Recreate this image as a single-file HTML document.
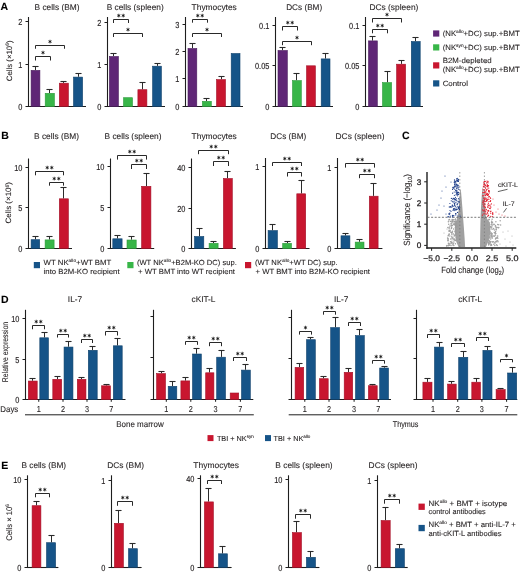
<!DOCTYPE html><html><head><meta charset="utf-8"><style>html,body{margin:0;padding:0;background:#fff;width:520px;height:573px;overflow:hidden}svg{display:block;will-change:transform}</style></head><body><svg width="520" height="573" viewBox="0 0 520 573" font-family="&quot;Liberation Sans&quot;, sans-serif"><style>text{stroke:#231f20;stroke-width:0.1px;paint-order:stroke;text-rendering:geometricPrecision}</style>
<rect width="520" height="573" fill="#ffffff"/>
<text x="0.5" y="10" font-size="10.5" text-anchor="start" font-weight="bold" fill="#000" >A</text>
<text x="1.2" y="138.5" font-size="10.5" text-anchor="start" font-weight="bold" fill="#000" >B</text>
<text x="402" y="139" font-size="10.5" text-anchor="start" font-weight="bold" fill="#000" >C</text>
<text x="1" y="302.8" font-size="10.5" text-anchor="start" font-weight="bold" fill="#000" >D</text>
<text x="1.2" y="469" font-size="10.5" text-anchor="start" font-weight="bold" fill="#000" >E</text>
<line x1="28.5" y1="17" x2="28.5" y2="107.0" stroke="#1e1e1e" stroke-width="1.1"/>
<line x1="28.0" y1="106.5" x2="86" y2="106.5" stroke="#1e1e1e" stroke-width="1.1"/>
<line x1="25.5" y1="106.5" x2="28.5" y2="106.5" stroke="#1e1e1e" stroke-width="1"/>
<text x="22.4" y="109.6" font-size="8.7" text-anchor="end" font-weight="normal" fill="#231f20" textLength="4.11" lengthAdjust="spacingAndGlyphs" style="stroke-width:0.15px">0</text>
<line x1="25.5" y1="64.5" x2="28.5" y2="64.5" stroke="#1e1e1e" stroke-width="1"/>
<text x="22.4" y="67.6" font-size="8.7" text-anchor="end" font-weight="normal" fill="#231f20" textLength="4.11" lengthAdjust="spacingAndGlyphs" style="stroke-width:0.15px">1</text>
<line x1="25.5" y1="21.5" x2="28.5" y2="21.5" stroke="#1e1e1e" stroke-width="1"/>
<text x="22.4" y="24.6" font-size="8.7" text-anchor="end" font-weight="normal" fill="#231f20" textLength="4.11" lengthAdjust="spacingAndGlyphs" style="stroke-width:0.15px">2</text>
<line x1="35.5" y1="66.5" x2="35.5" y2="70.1" stroke="#2b2b2b" stroke-width="1"/>
<line x1="32.45" y1="66.5" x2="38.55" y2="66.5" stroke="#2b2b2b" stroke-width="1.1"/>
<rect x="31.1" y="70.39999999999999" width="8.800000000000002" height="36.10000000000001" fill="#5f2676" stroke="#4a1d5e" stroke-width="0.6"/>
<line x1="49.5" y1="89.5" x2="49.5" y2="93" stroke="#2b2b2b" stroke-width="1"/>
<line x1="46.45" y1="89.5" x2="52.55" y2="89.5" stroke="#2b2b2b" stroke-width="1.1"/>
<rect x="45.199999999999996" y="93.3" width="9.200000000000005" height="13.2" fill="#38b648" stroke="#2e9a3c" stroke-width="0.6"/>
<line x1="63.5" y1="81.5" x2="63.5" y2="82.9" stroke="#2b2b2b" stroke-width="1"/>
<line x1="60.45" y1="81.5" x2="66.55" y2="81.5" stroke="#2b2b2b" stroke-width="1.1"/>
<rect x="59.3" y="83.2" width="9.100000000000003" height="23.299999999999994" fill="#c8162f" stroke="#a31128" stroke-width="0.6"/>
<line x1="78.5" y1="73.5" x2="78.5" y2="76.8" stroke="#2b2b2b" stroke-width="1"/>
<line x1="75.45" y1="73.5" x2="81.55" y2="73.5" stroke="#2b2b2b" stroke-width="1.1"/>
<rect x="73.5" y="77.1" width="9.100000000000003" height="29.400000000000002" fill="#165488" stroke="#10426c" stroke-width="0.6"/>
<polyline points="35.5,60.5 35.5,56.5 50.5,56.5 50.5,60.5" fill="none" stroke="#1e1e1e" stroke-width="0.95"/>
<circle cx="43.00" cy="52.60" r="0.85" fill="#1e1e1e"/>
<path d="M43.00,51.15L43.00,54.05M41.74,51.88L44.26,53.33M44.26,51.88L41.74,53.33" stroke="#1e1e1e" stroke-width="0.75" stroke-linecap="round" fill="none"/>
<polyline points="35.5,48.75 35.5,45.5 64.5,45.5 64.5,48.75" fill="none" stroke="#1e1e1e" stroke-width="0.95"/>
<circle cx="50.00" cy="41.60" r="0.85" fill="#1e1e1e"/>
<path d="M50.00,40.15L50.00,43.05M48.74,40.88L51.26,42.33M51.26,40.88L48.74,42.33" stroke="#1e1e1e" stroke-width="0.75" stroke-linecap="round" fill="none"/>
<text x="57" y="9.8" font-size="8.3" text-anchor="middle" font-weight="normal" fill="#231f20" textLength="45" lengthAdjust="spacingAndGlyphs" >B cells (BM)</text>
<line x1="107.5" y1="17" x2="107.5" y2="107.0" stroke="#1e1e1e" stroke-width="1.1"/>
<line x1="107.0" y1="106.5" x2="165" y2="106.5" stroke="#1e1e1e" stroke-width="1.1"/>
<line x1="104.5" y1="106.5" x2="107.5" y2="106.5" stroke="#1e1e1e" stroke-width="1"/>
<text x="101.4" y="109.6" font-size="8.7" text-anchor="end" font-weight="normal" fill="#231f20" textLength="4.11" lengthAdjust="spacingAndGlyphs" style="stroke-width:0.15px">0</text>
<line x1="104.5" y1="64.5" x2="107.5" y2="64.5" stroke="#1e1e1e" stroke-width="1"/>
<text x="101.4" y="67.6" font-size="8.7" text-anchor="end" font-weight="normal" fill="#231f20" textLength="4.11" lengthAdjust="spacingAndGlyphs" style="stroke-width:0.15px">1</text>
<line x1="104.5" y1="22.5" x2="107.5" y2="22.5" stroke="#1e1e1e" stroke-width="1"/>
<text x="101.4" y="25.6" font-size="8.7" text-anchor="end" font-weight="normal" fill="#231f20" textLength="4.11" lengthAdjust="spacingAndGlyphs" style="stroke-width:0.15px">2</text>
<line x1="113.5" y1="53.5" x2="113.5" y2="56.2" stroke="#2b2b2b" stroke-width="1"/>
<line x1="110.45" y1="53.5" x2="116.55" y2="53.5" stroke="#2b2b2b" stroke-width="1.1"/>
<rect x="109.39999999999999" y="56.5" width="9.000000000000009" height="50.0" fill="#5f2676" stroke="#4a1d5e" stroke-width="0.6"/>
<rect x="123.5" y="97.7" width="9.000000000000009" height="8.799999999999994" fill="#38b648" stroke="#2e9a3c" stroke-width="0.6"/>
<line x1="142.5" y1="82.5" x2="142.5" y2="89.4" stroke="#2b2b2b" stroke-width="1"/>
<line x1="139.45" y1="82.5" x2="145.55" y2="82.5" stroke="#2b2b2b" stroke-width="1.1"/>
<rect x="137.9" y="89.7" width="8.999999999999995" height="16.799999999999994" fill="#c8162f" stroke="#a31128" stroke-width="0.6"/>
<line x1="157.5" y1="63.5" x2="157.5" y2="65.9" stroke="#2b2b2b" stroke-width="1"/>
<line x1="154.45" y1="63.5" x2="160.55" y2="63.5" stroke="#2b2b2b" stroke-width="1.1"/>
<rect x="152.60000000000002" y="66.2" width="8.799999999999978" height="40.3" fill="#165488" stroke="#10426c" stroke-width="0.6"/>
<polyline points="113.5,23 113.5,19.5 128.5,19.5 128.5,23" fill="none" stroke="#1e1e1e" stroke-width="0.95"/>
<circle cx="118.75" cy="15.60" r="0.85" fill="#1e1e1e"/>
<path d="M118.75,14.15L118.75,17.05M117.49,14.88L120.01,16.32M120.01,14.88L117.49,16.32" stroke="#1e1e1e" stroke-width="0.75" stroke-linecap="round" fill="none"/>
<circle cx="123.25" cy="15.60" r="0.85" fill="#1e1e1e"/>
<path d="M123.25,14.15L123.25,17.05M121.99,14.88L124.51,16.32M124.51,14.88L121.99,16.32" stroke="#1e1e1e" stroke-width="0.75" stroke-linecap="round" fill="none"/>
<polyline points="113.5,37 113.5,33.5 142.5,33.5 142.5,37" fill="none" stroke="#1e1e1e" stroke-width="0.95"/>
<circle cx="128.00" cy="29.60" r="0.85" fill="#1e1e1e"/>
<path d="M128.00,28.15L128.00,31.05M126.74,28.88L129.26,30.33M129.26,28.88L126.74,30.33" stroke="#1e1e1e" stroke-width="0.75" stroke-linecap="round" fill="none"/>
<text x="135.2" y="9.8" font-size="8.3" text-anchor="middle" font-weight="normal" fill="#231f20" textLength="57" lengthAdjust="spacingAndGlyphs" >B cells (spleen)</text>
<line x1="185.5" y1="17" x2="185.5" y2="107.0" stroke="#1e1e1e" stroke-width="1.1"/>
<line x1="185.0" y1="106.5" x2="243" y2="106.5" stroke="#1e1e1e" stroke-width="1.1"/>
<line x1="182.5" y1="106.5" x2="185.5" y2="106.5" stroke="#1e1e1e" stroke-width="1"/>
<text x="179.4" y="109.6" font-size="8.7" text-anchor="end" font-weight="normal" fill="#231f20" textLength="4.11" lengthAdjust="spacingAndGlyphs" style="stroke-width:0.15px">0</text>
<line x1="182.5" y1="78.5" x2="185.5" y2="78.5" stroke="#1e1e1e" stroke-width="1"/>
<text x="179.4" y="81.6" font-size="8.7" text-anchor="end" font-weight="normal" fill="#231f20" textLength="4.11" lengthAdjust="spacingAndGlyphs" style="stroke-width:0.15px">1</text>
<line x1="182.5" y1="51.5" x2="185.5" y2="51.5" stroke="#1e1e1e" stroke-width="1"/>
<text x="179.4" y="54.6" font-size="8.7" text-anchor="end" font-weight="normal" fill="#231f20" textLength="4.11" lengthAdjust="spacingAndGlyphs" style="stroke-width:0.15px">2</text>
<line x1="182.5" y1="24.5" x2="185.5" y2="24.5" stroke="#1e1e1e" stroke-width="1"/>
<text x="179.4" y="27.6" font-size="8.7" text-anchor="end" font-weight="normal" fill="#231f20" textLength="4.11" lengthAdjust="spacingAndGlyphs" style="stroke-width:0.15px">3</text>
<line x1="192.5" y1="43.5" x2="192.5" y2="48.2" stroke="#2b2b2b" stroke-width="1"/>
<line x1="189.45" y1="43.5" x2="195.55" y2="43.5" stroke="#2b2b2b" stroke-width="1.1"/>
<rect x="188.0" y="48.5" width="8.800000000000006" height="58.0" fill="#5f2676" stroke="#4a1d5e" stroke-width="0.6"/>
<line x1="206.5" y1="98.5" x2="206.5" y2="101" stroke="#2b2b2b" stroke-width="1"/>
<line x1="203.45" y1="98.5" x2="209.55" y2="98.5" stroke="#2b2b2b" stroke-width="1.1"/>
<rect x="202.4" y="101.3" width="8.9" height="5.2" fill="#38b648" stroke="#2e9a3c" stroke-width="0.6"/>
<line x1="221.5" y1="76.5" x2="221.5" y2="79.3" stroke="#2b2b2b" stroke-width="1"/>
<line x1="218.45" y1="76.5" x2="224.55" y2="76.5" stroke="#2b2b2b" stroke-width="1.1"/>
<rect x="216.5" y="79.6" width="9.000000000000023" height="26.900000000000002" fill="#c8162f" stroke="#a31128" stroke-width="0.6"/>
<rect x="231.20000000000002" y="53.5" width="8.800000000000006" height="53.0" fill="#165488" stroke="#10426c" stroke-width="0.6"/>
<polyline points="192.5,22.7 192.5,19.5 207.5,19.5 207.5,22.7" fill="none" stroke="#1e1e1e" stroke-width="0.95"/>
<circle cx="197.75" cy="15.60" r="0.85" fill="#1e1e1e"/>
<path d="M197.75,14.15L197.75,17.05M196.49,14.88L199.01,16.32M199.01,14.88L196.49,16.32" stroke="#1e1e1e" stroke-width="0.75" stroke-linecap="round" fill="none"/>
<circle cx="202.25" cy="15.60" r="0.85" fill="#1e1e1e"/>
<path d="M202.25,14.15L202.25,17.05M200.99,14.88L203.51,16.32M203.51,14.88L200.99,16.32" stroke="#1e1e1e" stroke-width="0.75" stroke-linecap="round" fill="none"/>
<polyline points="192.5,37 192.5,33.5 221.5,33.5 221.5,37" fill="none" stroke="#1e1e1e" stroke-width="0.95"/>
<circle cx="207.00" cy="29.60" r="0.85" fill="#1e1e1e"/>
<path d="M207.00,28.15L207.00,31.05M205.74,28.88L208.26,30.33M208.26,28.88L205.74,30.33" stroke="#1e1e1e" stroke-width="0.75" stroke-linecap="round" fill="none"/>
<text x="214.2" y="9.8" font-size="8.3" text-anchor="middle" font-weight="normal" fill="#231f20" textLength="45.2" lengthAdjust="spacingAndGlyphs" >Thymocytes</text>
<line x1="275.5" y1="17" x2="275.5" y2="107.0" stroke="#1e1e1e" stroke-width="1.1"/>
<line x1="275.0" y1="106.5" x2="333" y2="106.5" stroke="#1e1e1e" stroke-width="1.1"/>
<line x1="272.5" y1="106.5" x2="275.5" y2="106.5" stroke="#1e1e1e" stroke-width="1"/>
<text x="269.4" y="109.6" font-size="8.7" text-anchor="end" font-weight="normal" fill="#231f20" textLength="4.11" lengthAdjust="spacingAndGlyphs" style="stroke-width:0.15px">0</text>
<line x1="272.5" y1="65.5" x2="275.5" y2="65.5" stroke="#1e1e1e" stroke-width="1"/>
<text x="269.4" y="68.6" font-size="8.7" text-anchor="end" font-weight="normal" fill="#231f20" textLength="14.39" lengthAdjust="spacingAndGlyphs" style="stroke-width:0.15px">0.05</text>
<line x1="272.5" y1="25.5" x2="275.5" y2="25.5" stroke="#1e1e1e" stroke-width="1"/>
<text x="269.4" y="28.6" font-size="8.7" text-anchor="end" font-weight="normal" fill="#231f20" textLength="10.28" lengthAdjust="spacingAndGlyphs" style="stroke-width:0.15px">0.1</text>
<line x1="282.5" y1="47.5" x2="282.5" y2="50.2" stroke="#2b2b2b" stroke-width="1"/>
<line x1="279.45" y1="47.5" x2="285.55" y2="47.5" stroke="#2b2b2b" stroke-width="1.1"/>
<rect x="278.0" y="50.5" width="9.300000000000034" height="56.0" fill="#5f2676" stroke="#4a1d5e" stroke-width="0.6"/>
<line x1="296.5" y1="73.5" x2="296.5" y2="80.3" stroke="#2b2b2b" stroke-width="1"/>
<line x1="293.45" y1="73.5" x2="299.55" y2="73.5" stroke="#2b2b2b" stroke-width="1.1"/>
<rect x="292.5" y="80.6" width="8.800000000000034" height="25.900000000000002" fill="#38b648" stroke="#2e9a3c" stroke-width="0.6"/>
<rect x="306.5" y="65.8" width="8.9" height="40.7" fill="#c8162f" stroke="#a31128" stroke-width="0.6"/>
<line x1="325.5" y1="53.5" x2="325.5" y2="58.6" stroke="#2b2b2b" stroke-width="1"/>
<line x1="322.45" y1="53.5" x2="328.55" y2="53.5" stroke="#2b2b2b" stroke-width="1.1"/>
<rect x="321.2" y="58.9" width="8.800000000000034" height="47.6" fill="#165488" stroke="#10426c" stroke-width="0.6"/>
<polyline points="282.5,30.5 282.5,26.5 297.5,26.5 297.5,30.5" fill="none" stroke="#1e1e1e" stroke-width="0.95"/>
<circle cx="287.75" cy="22.60" r="0.85" fill="#1e1e1e"/>
<path d="M287.75,21.15L287.75,24.05M286.49,21.88L289.01,23.33M289.01,21.88L286.49,23.33" stroke="#1e1e1e" stroke-width="0.75" stroke-linecap="round" fill="none"/>
<circle cx="292.25" cy="22.60" r="0.85" fill="#1e1e1e"/>
<path d="M292.25,21.15L292.25,24.05M290.99,21.88L293.51,23.33M293.51,21.88L290.99,23.33" stroke="#1e1e1e" stroke-width="0.75" stroke-linecap="round" fill="none"/>
<polyline points="282.5,45.2 282.5,41.5 311.5,41.5 311.5,45.2" fill="none" stroke="#1e1e1e" stroke-width="0.95"/>
<circle cx="297.00" cy="37.60" r="0.85" fill="#1e1e1e"/>
<path d="M297.00,36.15L297.00,39.05M295.74,36.88L298.26,38.33M298.26,36.88L295.74,38.33" stroke="#1e1e1e" stroke-width="0.75" stroke-linecap="round" fill="none"/>
<text x="304.2" y="9.8" font-size="8.3" text-anchor="middle" font-weight="normal" fill="#231f20" textLength="36" lengthAdjust="spacingAndGlyphs" >DCs (BM)</text>
<line x1="365.5" y1="17" x2="365.5" y2="107.0" stroke="#1e1e1e" stroke-width="1.1"/>
<line x1="365.0" y1="106.5" x2="423" y2="106.5" stroke="#1e1e1e" stroke-width="1.1"/>
<line x1="362.5" y1="106.5" x2="365.5" y2="106.5" stroke="#1e1e1e" stroke-width="1"/>
<text x="359.4" y="109.6" font-size="8.7" text-anchor="end" font-weight="normal" fill="#231f20" textLength="4.11" lengthAdjust="spacingAndGlyphs" style="stroke-width:0.15px">0</text>
<line x1="362.5" y1="65.5" x2="365.5" y2="65.5" stroke="#1e1e1e" stroke-width="1"/>
<text x="359.4" y="68.6" font-size="8.7" text-anchor="end" font-weight="normal" fill="#231f20" textLength="14.39" lengthAdjust="spacingAndGlyphs" style="stroke-width:0.15px">0.05</text>
<line x1="362.5" y1="25.5" x2="365.5" y2="25.5" stroke="#1e1e1e" stroke-width="1"/>
<text x="359.4" y="28.6" font-size="8.7" text-anchor="end" font-weight="normal" fill="#231f20" textLength="10.28" lengthAdjust="spacingAndGlyphs" style="stroke-width:0.15px">0.1</text>
<line x1="372.5" y1="36.5" x2="372.5" y2="40.6" stroke="#2b2b2b" stroke-width="1"/>
<line x1="369.45" y1="36.5" x2="375.55" y2="36.5" stroke="#2b2b2b" stroke-width="1.1"/>
<rect x="368.5" y="40.9" width="8.800000000000034" height="65.60000000000001" fill="#5f2676" stroke="#4a1d5e" stroke-width="0.6"/>
<line x1="387.5" y1="71.5" x2="387.5" y2="82.3" stroke="#2b2b2b" stroke-width="1"/>
<line x1="384.45" y1="71.5" x2="390.55" y2="71.5" stroke="#2b2b2b" stroke-width="1.1"/>
<rect x="382.5" y="82.6" width="9.099999999999989" height="23.900000000000002" fill="#38b648" stroke="#2e9a3c" stroke-width="0.6"/>
<line x1="401.5" y1="60.5" x2="401.5" y2="63.9" stroke="#2b2b2b" stroke-width="1"/>
<line x1="398.45" y1="60.5" x2="404.55" y2="60.5" stroke="#2b2b2b" stroke-width="1.1"/>
<rect x="396.6" y="64.2" width="8.999999999999966" height="42.300000000000004" fill="#c8162f" stroke="#a31128" stroke-width="0.6"/>
<line x1="415.5" y1="37.5" x2="415.5" y2="41.2" stroke="#2b2b2b" stroke-width="1"/>
<line x1="412.45" y1="37.5" x2="418.55" y2="37.5" stroke="#2b2b2b" stroke-width="1.1"/>
<rect x="411.3" y="41.5" width="8.9" height="65.0" fill="#165488" stroke="#10426c" stroke-width="0.6"/>
<polyline points="372.5,22.5 372.5,18.5 401.5,18.5 401.5,22.5" fill="none" stroke="#1e1e1e" stroke-width="0.95"/>
<circle cx="387.00" cy="14.60" r="0.85" fill="#1e1e1e"/>
<path d="M387.00,13.15L387.00,16.05M385.74,13.88L388.26,15.32M388.26,13.88L385.74,15.32" stroke="#1e1e1e" stroke-width="0.75" stroke-linecap="round" fill="none"/>
<polyline points="372.5,33.3 372.5,29.5 387.5,29.5 387.5,33.3" fill="none" stroke="#1e1e1e" stroke-width="0.95"/>
<circle cx="377.75" cy="25.60" r="0.85" fill="#1e1e1e"/>
<path d="M377.75,24.15L377.75,27.05M376.49,24.88L379.01,26.33M379.01,24.88L376.49,26.33" stroke="#1e1e1e" stroke-width="0.75" stroke-linecap="round" fill="none"/>
<circle cx="382.25" cy="25.60" r="0.85" fill="#1e1e1e"/>
<path d="M382.25,24.15L382.25,27.05M380.99,24.88L383.51,26.33M383.51,24.88L380.99,26.33" stroke="#1e1e1e" stroke-width="0.75" stroke-linecap="round" fill="none"/>
<text x="393.9" y="9.8" font-size="8.3" text-anchor="middle" font-weight="normal" fill="#231f20" textLength="49" lengthAdjust="spacingAndGlyphs" >DCs (spleen)</text>
<text transform="translate(11.7,60.8) rotate(-90)" font-size="7.8" text-anchor="middle" fill="#231f20" textLength="40.8" lengthAdjust="spacingAndGlyphs">Cells (×10<tspan font-size="5" dy="-2.8">6</tspan><tspan dy="2.8">)</tspan></text>
<rect x="433.1" y="30.4" width="6.2" height="6.2" fill="#5f2676"/>
<rect x="433.1" y="44.3" width="6.2" height="6.2" fill="#38b648"/>
<rect x="433.1" y="62.3" width="6.2" height="6.2" fill="#c8162f"/>
<rect x="433.1" y="80.3" width="6.2" height="6.2" fill="#165488"/>
<text x="442.7" y="36.3" font-size="7.5" fill="#231f20" textLength="77" lengthAdjust="spacingAndGlyphs">(NK<tspan font-size="4.65" dy="-2.85">allo</tspan><tspan dy="2.85">+DC) sup.+BMT</tspan></text>
<text x="442.7" y="49.9" font-size="7.5" fill="#231f20" textLength="77" lengthAdjust="spacingAndGlyphs">(NK<tspan font-size="4.65" dy="-2.85">syn</tspan><tspan dy="2.85">+DC) sup.+BMT</tspan></text>
<text x="442.7" y="62.7" font-size="7.5" text-anchor="start" font-weight="normal" fill="#231f20" textLength="49" lengthAdjust="spacingAndGlyphs" >B2M-depleted</text>
<text x="442.7" y="72.3" font-size="7.5" fill="#231f20" textLength="77" lengthAdjust="spacingAndGlyphs">(NK<tspan font-size="4.65" dy="-2.85">allo</tspan><tspan dy="2.85">+DC) sup.+BMT</tspan></text>
<text x="442.7" y="85.6" font-size="7.5" text-anchor="start" font-weight="normal" fill="#231f20" textLength="25.3" lengthAdjust="spacingAndGlyphs" >Control</text>
<line x1="28.5" y1="158.5" x2="28.5" y2="249.0" stroke="#1e1e1e" stroke-width="1.1"/>
<line x1="28.0" y1="248.5" x2="72" y2="248.5" stroke="#1e1e1e" stroke-width="1.1"/>
<line x1="25.5" y1="248.5" x2="28.5" y2="248.5" stroke="#1e1e1e" stroke-width="1"/>
<text x="22.4" y="251.6" font-size="8.7" text-anchor="end" font-weight="normal" fill="#231f20" textLength="4.11" lengthAdjust="spacingAndGlyphs" style="stroke-width:0.15px">0</text>
<line x1="25.5" y1="207.5" x2="28.5" y2="207.5" stroke="#1e1e1e" stroke-width="1"/>
<text x="22.4" y="210.6" font-size="8.7" text-anchor="end" font-weight="normal" fill="#231f20" textLength="4.11" lengthAdjust="spacingAndGlyphs" style="stroke-width:0.15px">5</text>
<line x1="25.5" y1="167.5" x2="28.5" y2="167.5" stroke="#1e1e1e" stroke-width="1"/>
<text x="22.4" y="170.6" font-size="8.7" text-anchor="end" font-weight="normal" fill="#231f20" textLength="8.22" lengthAdjust="spacingAndGlyphs" style="stroke-width:0.15px">10</text>
<line x1="35.5" y1="236.5" x2="35.5" y2="239.4" stroke="#2b2b2b" stroke-width="1"/>
<line x1="32.45" y1="236.5" x2="38.55" y2="236.5" stroke="#2b2b2b" stroke-width="1.1"/>
<rect x="31.1" y="239.70000000000002" width="8.6" height="8.799999999999994" fill="#165488" stroke="#10426c" stroke-width="0.6"/>
<line x1="49.5" y1="236.5" x2="49.5" y2="239.6" stroke="#2b2b2b" stroke-width="1"/>
<line x1="46.45" y1="236.5" x2="52.55" y2="236.5" stroke="#2b2b2b" stroke-width="1.1"/>
<rect x="45.099999999999994" y="239.9" width="9.000000000000002" height="8.600000000000005" fill="#38b648" stroke="#2e9a3c" stroke-width="0.6"/>
<line x1="63.5" y1="187.5" x2="63.5" y2="198.5" stroke="#2b2b2b" stroke-width="1"/>
<line x1="60.45" y1="187.5" x2="66.55" y2="187.5" stroke="#2b2b2b" stroke-width="1.1"/>
<rect x="59.3" y="198.8" width="9.100000000000003" height="49.7" fill="#c8162f" stroke="#a31128" stroke-width="0.6"/>
<polyline points="35.5,175.3 35.5,171.5 63.5,171.5 63.5,175.3" fill="none" stroke="#1e1e1e" stroke-width="0.95"/>
<circle cx="47.25" cy="167.60" r="0.85" fill="#1e1e1e"/>
<path d="M47.25,166.15L47.25,169.05M45.99,166.88L48.51,168.32M48.51,166.88L45.99,168.32" stroke="#1e1e1e" stroke-width="0.75" stroke-linecap="round" fill="none"/>
<circle cx="51.75" cy="167.60" r="0.85" fill="#1e1e1e"/>
<path d="M51.75,166.15L51.75,169.05M50.49,166.88L53.01,168.32M53.01,166.88L50.49,168.32" stroke="#1e1e1e" stroke-width="0.75" stroke-linecap="round" fill="none"/>
<polyline points="49.5,185.7 49.5,182.5 63.5,182.5 63.5,185.7" fill="none" stroke="#1e1e1e" stroke-width="0.95"/>
<circle cx="54.25" cy="178.60" r="0.85" fill="#1e1e1e"/>
<path d="M54.25,177.15L54.25,180.05M52.99,177.88L55.51,179.32M55.51,177.88L52.99,179.32" stroke="#1e1e1e" stroke-width="0.75" stroke-linecap="round" fill="none"/>
<circle cx="58.75" cy="178.60" r="0.85" fill="#1e1e1e"/>
<path d="M58.75,177.15L58.75,180.05M57.49,177.88L60.01,179.32M60.01,177.88L57.49,179.32" stroke="#1e1e1e" stroke-width="0.75" stroke-linecap="round" fill="none"/>
<text x="56.5" y="139.10000000000002" font-size="8.3" text-anchor="middle" font-weight="normal" fill="#231f20" textLength="45" lengthAdjust="spacingAndGlyphs" >B cells (BM)</text>
<line x1="110.5" y1="158.5" x2="110.5" y2="249.0" stroke="#1e1e1e" stroke-width="1.1"/>
<line x1="110.0" y1="248.5" x2="154.2" y2="248.5" stroke="#1e1e1e" stroke-width="1.1"/>
<line x1="107.5" y1="248.5" x2="110.5" y2="248.5" stroke="#1e1e1e" stroke-width="1"/>
<text x="104.4" y="251.6" font-size="8.7" text-anchor="end" font-weight="normal" fill="#231f20" textLength="4.11" lengthAdjust="spacingAndGlyphs" style="stroke-width:0.15px">0</text>
<line x1="107.5" y1="207.5" x2="110.5" y2="207.5" stroke="#1e1e1e" stroke-width="1"/>
<text x="104.4" y="210.6" font-size="8.7" text-anchor="end" font-weight="normal" fill="#231f20" textLength="4.11" lengthAdjust="spacingAndGlyphs" style="stroke-width:0.15px">5</text>
<line x1="107.5" y1="166.5" x2="110.5" y2="166.5" stroke="#1e1e1e" stroke-width="1"/>
<text x="104.4" y="169.6" font-size="8.7" text-anchor="end" font-weight="normal" fill="#231f20" textLength="8.22" lengthAdjust="spacingAndGlyphs" style="stroke-width:0.15px">10</text>
<line x1="117.5" y1="235.5" x2="117.5" y2="238.5" stroke="#2b2b2b" stroke-width="1"/>
<line x1="114.45" y1="235.5" x2="120.55" y2="235.5" stroke="#2b2b2b" stroke-width="1.1"/>
<rect x="112.8" y="238.8" width="9.300000000000006" height="9.7" fill="#165488" stroke="#10426c" stroke-width="0.6"/>
<line x1="131.5" y1="236.5" x2="131.5" y2="239.7" stroke="#2b2b2b" stroke-width="1"/>
<line x1="128.45" y1="236.5" x2="134.55" y2="236.5" stroke="#2b2b2b" stroke-width="1.1"/>
<rect x="127.0" y="240.0" width="9.199999999999998" height="8.50000000000001" fill="#38b648" stroke="#2e9a3c" stroke-width="0.6"/>
<line x1="146.5" y1="173.5" x2="146.5" y2="186" stroke="#2b2b2b" stroke-width="1"/>
<line x1="143.45" y1="173.5" x2="149.55" y2="173.5" stroke="#2b2b2b" stroke-width="1.1"/>
<rect x="141.60000000000002" y="186.3" width="9.299999999999978" height="62.2" fill="#c8162f" stroke="#a31128" stroke-width="0.6"/>
<polyline points="117.5,159.6 117.5,155.5 146.5,155.5 146.5,159.6" fill="none" stroke="#1e1e1e" stroke-width="0.95"/>
<circle cx="129.75" cy="151.60" r="0.85" fill="#1e1e1e"/>
<path d="M129.75,150.15L129.75,153.05M128.49,150.88L131.01,152.32M131.01,150.88L128.49,152.32" stroke="#1e1e1e" stroke-width="0.75" stroke-linecap="round" fill="none"/>
<circle cx="134.25" cy="151.60" r="0.85" fill="#1e1e1e"/>
<path d="M134.25,150.15L134.25,153.05M132.99,150.88L135.51,152.32M135.51,150.88L132.99,152.32" stroke="#1e1e1e" stroke-width="0.75" stroke-linecap="round" fill="none"/>
<polyline points="131.5,169 131.5,164.5 146.5,164.5 146.5,169" fill="none" stroke="#1e1e1e" stroke-width="0.95"/>
<circle cx="136.75" cy="160.60" r="0.85" fill="#1e1e1e"/>
<path d="M136.75,159.15L136.75,162.05M135.49,159.88L138.01,161.32M138.01,159.88L135.49,161.32" stroke="#1e1e1e" stroke-width="0.75" stroke-linecap="round" fill="none"/>
<circle cx="141.25" cy="160.60" r="0.85" fill="#1e1e1e"/>
<path d="M141.25,159.15L141.25,162.05M139.99,159.88L142.51,161.32M142.51,159.88L139.99,161.32" stroke="#1e1e1e" stroke-width="0.75" stroke-linecap="round" fill="none"/>
<text x="133" y="139.10000000000002" font-size="8.3" text-anchor="middle" font-weight="normal" fill="#231f20" textLength="57" lengthAdjust="spacingAndGlyphs" >B cells (spleen)</text>
<line x1="191.5" y1="158.5" x2="191.5" y2="249.0" stroke="#1e1e1e" stroke-width="1.1"/>
<line x1="191.0" y1="248.5" x2="235.9" y2="248.5" stroke="#1e1e1e" stroke-width="1.1"/>
<line x1="188.5" y1="248.5" x2="191.5" y2="248.5" stroke="#1e1e1e" stroke-width="1"/>
<text x="185.4" y="251.6" font-size="8.7" text-anchor="end" font-weight="normal" fill="#231f20" textLength="4.11" lengthAdjust="spacingAndGlyphs" style="stroke-width:0.15px">0</text>
<line x1="188.5" y1="208.5" x2="191.5" y2="208.5" stroke="#1e1e1e" stroke-width="1"/>
<text x="185.4" y="211.6" font-size="8.7" text-anchor="end" font-weight="normal" fill="#231f20" textLength="8.22" lengthAdjust="spacingAndGlyphs" style="stroke-width:0.15px">20</text>
<line x1="188.5" y1="167.5" x2="191.5" y2="167.5" stroke="#1e1e1e" stroke-width="1"/>
<text x="185.4" y="170.6" font-size="8.7" text-anchor="end" font-weight="normal" fill="#231f20" textLength="8.22" lengthAdjust="spacingAndGlyphs" style="stroke-width:0.15px">40</text>
<line x1="199.5" y1="228.5" x2="199.5" y2="236.2" stroke="#2b2b2b" stroke-width="1"/>
<line x1="196.45" y1="228.5" x2="202.55" y2="228.5" stroke="#2b2b2b" stroke-width="1.1"/>
<rect x="194.5" y="236.5" width="9.300000000000006" height="12.00000000000001" fill="#165488" stroke="#10426c" stroke-width="0.6"/>
<line x1="213.5" y1="241.5" x2="213.5" y2="243" stroke="#2b2b2b" stroke-width="1"/>
<line x1="210.45" y1="241.5" x2="216.55" y2="241.5" stroke="#2b2b2b" stroke-width="1.1"/>
<rect x="209.10000000000002" y="243.3" width="8.999999999999995" height="5.2" fill="#38b648" stroke="#2e9a3c" stroke-width="0.6"/>
<line x1="227.5" y1="171.5" x2="227.5" y2="178.2" stroke="#2b2b2b" stroke-width="1"/>
<line x1="224.45" y1="171.5" x2="230.55" y2="171.5" stroke="#2b2b2b" stroke-width="1.1"/>
<rect x="223.4" y="178.5" width="8.9" height="70.00000000000001" fill="#c8162f" stroke="#a31128" stroke-width="0.6"/>
<polyline points="198.5,154.2 198.5,150.5 228.5,150.5 228.5,154.2" fill="none" stroke="#1e1e1e" stroke-width="0.95"/>
<circle cx="211.25" cy="146.60" r="0.85" fill="#1e1e1e"/>
<path d="M211.25,145.15L211.25,148.05M209.99,145.88L212.51,147.32M212.51,145.88L209.99,147.32" stroke="#1e1e1e" stroke-width="0.75" stroke-linecap="round" fill="none"/>
<circle cx="215.75" cy="146.60" r="0.85" fill="#1e1e1e"/>
<path d="M215.75,145.15L215.75,148.05M214.49,145.88L217.01,147.32M217.01,145.88L214.49,147.32" stroke="#1e1e1e" stroke-width="0.75" stroke-linecap="round" fill="none"/>
<polyline points="213.5,166 213.5,161.5 228.5,161.5 228.5,166" fill="none" stroke="#1e1e1e" stroke-width="0.95"/>
<circle cx="218.75" cy="157.60" r="0.85" fill="#1e1e1e"/>
<path d="M218.75,156.15L218.75,159.05M217.49,156.88L220.01,158.32M220.01,156.88L217.49,158.32" stroke="#1e1e1e" stroke-width="0.75" stroke-linecap="round" fill="none"/>
<circle cx="223.25" cy="157.60" r="0.85" fill="#1e1e1e"/>
<path d="M223.25,156.15L223.25,159.05M221.99,156.88L224.51,158.32M224.51,156.88L221.99,158.32" stroke="#1e1e1e" stroke-width="0.75" stroke-linecap="round" fill="none"/>
<text x="214.2" y="139.10000000000002" font-size="8.3" text-anchor="middle" font-weight="normal" fill="#231f20" textLength="45.2" lengthAdjust="spacingAndGlyphs" >Thymocytes</text>
<line x1="265.5" y1="158" x2="265.5" y2="249.0" stroke="#1e1e1e" stroke-width="1.1"/>
<line x1="265.0" y1="248.5" x2="309.5" y2="248.5" stroke="#1e1e1e" stroke-width="1.1"/>
<line x1="262.5" y1="248.5" x2="265.5" y2="248.5" stroke="#1e1e1e" stroke-width="1"/>
<text x="259.4" y="251.6" font-size="8.7" text-anchor="end" font-weight="normal" fill="#231f20" textLength="4.11" lengthAdjust="spacingAndGlyphs" style="stroke-width:0.15px">0</text>
<line x1="262.5" y1="166.5" x2="265.5" y2="166.5" stroke="#1e1e1e" stroke-width="1"/>
<text x="259.4" y="169.6" font-size="8.7" text-anchor="end" font-weight="normal" fill="#231f20" textLength="4.11" lengthAdjust="spacingAndGlyphs" style="stroke-width:0.15px">1</text>
<line x1="272.5" y1="224.5" x2="272.5" y2="230.3" stroke="#2b2b2b" stroke-width="1"/>
<line x1="269.45" y1="224.5" x2="275.55" y2="224.5" stroke="#2b2b2b" stroke-width="1.1"/>
<rect x="268.1" y="230.60000000000002" width="9.299999999999978" height="17.899999999999988" fill="#165488" stroke="#10426c" stroke-width="0.6"/>
<line x1="287.5" y1="241.5" x2="287.5" y2="243" stroke="#2b2b2b" stroke-width="1"/>
<line x1="284.45" y1="241.5" x2="290.55" y2="241.5" stroke="#2b2b2b" stroke-width="1.1"/>
<rect x="282.7" y="243.3" width="8.800000000000034" height="5.2" fill="#38b648" stroke="#2e9a3c" stroke-width="0.6"/>
<line x1="301.5" y1="180.5" x2="301.5" y2="193.5" stroke="#2b2b2b" stroke-width="1"/>
<line x1="298.45" y1="180.5" x2="304.55" y2="180.5" stroke="#2b2b2b" stroke-width="1.1"/>
<rect x="296.8" y="193.8" width="8.9" height="54.7" fill="#c8162f" stroke="#a31128" stroke-width="0.6"/>
<polyline points="272.5,166 272.5,162.5 301.5,162.5 301.5,166" fill="none" stroke="#1e1e1e" stroke-width="0.95"/>
<circle cx="284.75" cy="158.60" r="0.85" fill="#1e1e1e"/>
<path d="M284.75,157.15L284.75,160.05M283.49,157.88L286.01,159.32M286.01,157.88L283.49,159.32" stroke="#1e1e1e" stroke-width="0.75" stroke-linecap="round" fill="none"/>
<circle cx="289.25" cy="158.60" r="0.85" fill="#1e1e1e"/>
<path d="M289.25,157.15L289.25,160.05M287.99,157.88L290.51,159.32M290.51,157.88L287.99,159.32" stroke="#1e1e1e" stroke-width="0.75" stroke-linecap="round" fill="none"/>
<polyline points="287.5,176.5 287.5,172.5 301.5,172.5 301.5,176.5" fill="none" stroke="#1e1e1e" stroke-width="0.95"/>
<circle cx="292.25" cy="168.60" r="0.85" fill="#1e1e1e"/>
<path d="M292.25,167.15L292.25,170.05M290.99,167.88L293.51,169.32M293.51,167.88L290.99,169.32" stroke="#1e1e1e" stroke-width="0.75" stroke-linecap="round" fill="none"/>
<circle cx="296.75" cy="168.60" r="0.85" fill="#1e1e1e"/>
<path d="M296.75,167.15L296.75,170.05M295.49,167.88L298.01,169.32M298.01,167.88L295.49,169.32" stroke="#1e1e1e" stroke-width="0.75" stroke-linecap="round" fill="none"/>
<text x="288.3" y="139.10000000000002" font-size="8.3" text-anchor="middle" font-weight="normal" fill="#231f20" textLength="36" lengthAdjust="spacingAndGlyphs" >DCs (BM)</text>
<line x1="337.5" y1="158" x2="337.5" y2="249.0" stroke="#1e1e1e" stroke-width="1.1"/>
<line x1="337.0" y1="248.5" x2="382.4" y2="248.5" stroke="#1e1e1e" stroke-width="1.1"/>
<line x1="334.5" y1="248.5" x2="337.5" y2="248.5" stroke="#1e1e1e" stroke-width="1"/>
<text x="331.4" y="251.6" font-size="8.7" text-anchor="end" font-weight="normal" fill="#231f20" textLength="4.11" lengthAdjust="spacingAndGlyphs" style="stroke-width:0.15px">0</text>
<line x1="334.5" y1="167.5" x2="337.5" y2="167.5" stroke="#1e1e1e" stroke-width="1"/>
<text x="331.4" y="170.6" font-size="8.7" text-anchor="end" font-weight="normal" fill="#231f20" textLength="4.11" lengthAdjust="spacingAndGlyphs" style="stroke-width:0.15px">1</text>
<line x1="345.5" y1="233.5" x2="345.5" y2="235.5" stroke="#2b2b2b" stroke-width="1"/>
<line x1="342.45" y1="233.5" x2="348.55" y2="233.5" stroke="#2b2b2b" stroke-width="1.1"/>
<rect x="341.0" y="235.8" width="8.9" height="12.7" fill="#165488" stroke="#10426c" stroke-width="0.6"/>
<line x1="359.5" y1="239.5" x2="359.5" y2="241.8" stroke="#2b2b2b" stroke-width="1"/>
<line x1="356.45" y1="239.5" x2="362.55" y2="239.5" stroke="#2b2b2b" stroke-width="1.1"/>
<rect x="355.2" y="242.10000000000002" width="8.800000000000034" height="6.399999999999989" fill="#38b648" stroke="#2e9a3c" stroke-width="0.6"/>
<line x1="373.5" y1="183.5" x2="373.5" y2="195.9" stroke="#2b2b2b" stroke-width="1"/>
<line x1="370.45" y1="183.5" x2="376.55" y2="183.5" stroke="#2b2b2b" stroke-width="1.1"/>
<rect x="369.3" y="196.20000000000002" width="8.799999999999978" height="52.3" fill="#c8162f" stroke="#a31128" stroke-width="0.6"/>
<polyline points="345.5,167.6 345.5,163.5 374.5,163.5 374.5,167.6" fill="none" stroke="#1e1e1e" stroke-width="0.95"/>
<circle cx="357.75" cy="159.60" r="0.85" fill="#1e1e1e"/>
<path d="M357.75,158.15L357.75,161.05M356.49,158.88L359.01,160.32M359.01,158.88L356.49,160.32" stroke="#1e1e1e" stroke-width="0.75" stroke-linecap="round" fill="none"/>
<circle cx="362.25" cy="159.60" r="0.85" fill="#1e1e1e"/>
<path d="M362.25,158.15L362.25,161.05M360.99,158.88L363.51,160.32M363.51,158.88L360.99,160.32" stroke="#1e1e1e" stroke-width="0.75" stroke-linecap="round" fill="none"/>
<polyline points="359.5,178.2 359.5,174.5 374.5,174.5 374.5,178.2" fill="none" stroke="#1e1e1e" stroke-width="0.95"/>
<circle cx="364.75" cy="170.60" r="0.85" fill="#1e1e1e"/>
<path d="M364.75,169.15L364.75,172.05M363.49,169.88L366.01,171.32M366.01,169.88L363.49,171.32" stroke="#1e1e1e" stroke-width="0.75" stroke-linecap="round" fill="none"/>
<circle cx="369.25" cy="170.60" r="0.85" fill="#1e1e1e"/>
<path d="M369.25,169.15L369.25,172.05M367.99,169.88L370.51,171.32M370.51,169.88L367.99,171.32" stroke="#1e1e1e" stroke-width="0.75" stroke-linecap="round" fill="none"/>
<text x="360" y="139.10000000000002" font-size="8.3" text-anchor="middle" font-weight="normal" fill="#231f20" textLength="49" lengthAdjust="spacingAndGlyphs" >DCs (spleen)</text>
<text transform="translate(11.3,202.8) rotate(-90)" font-size="7.8" text-anchor="middle" fill="#231f20" textLength="41.6" lengthAdjust="spacingAndGlyphs">Cells (×10<tspan font-size="5" dy="-2.8">6</tspan><tspan dy="2.8">)</tspan></text>
<rect x="33.8" y="262" width="6.2" height="6.2" fill="#165488"/>
<rect x="127.3" y="262" width="6.2" height="6.2" fill="#38b648"/>
<rect x="245" y="262" width="6.2" height="6.2" fill="#c8162f"/>
<text x="43.6" y="265" font-size="7.4" fill="#231f20" textLength="67.7" lengthAdjust="spacingAndGlyphs">WT NK<tspan font-size="4.59" dy="-2.81">allo</tspan><tspan dy="2.81">+WT BMT</tspan></text>
<text x="43.6" y="273.6" font-size="7.4" text-anchor="start" font-weight="normal" fill="#231f20" textLength="76" lengthAdjust="spacingAndGlyphs" >into B2M-KO recipient</text>
<text x="136.9" y="265" font-size="7.4" fill="#231f20" textLength="100" lengthAdjust="spacingAndGlyphs">(WT NK<tspan font-size="4.59" dy="-2.81">allo</tspan><tspan dy="2.81">+B2M-KO DC) sup.</tspan></text>
<text x="138.1" y="273.6" font-size="7.4" text-anchor="start" font-weight="normal" fill="#231f20" textLength="96.9" lengthAdjust="spacingAndGlyphs" >+ WT BMT into WT recipient</text>
<text x="255" y="265" font-size="7.4" fill="#231f20" textLength="82.7" lengthAdjust="spacingAndGlyphs">(WT NK<tspan font-size="4.59" dy="-2.81">allo</tspan><tspan dy="2.81">+WT DC) sup.</tspan></text>
<text x="255.5" y="273.6" font-size="7.4" text-anchor="start" font-weight="normal" fill="#231f20" textLength="114.5" lengthAdjust="spacingAndGlyphs" >+ WT BMT into B2M-KO recipient</text>
<g>
<polygon points="460.8,189.0 461.6,198.0 462.4,208.0 463.1,218.0 463.9,228.0 464.6,238.0 465.1,247.0 458.5,247.0 456.0,241.0 454.8,232.0 455.0,224.0 457.2,218.0 458.6,210.0 459.4,200.0 460.2,190.0" fill="#a0a0a0"/>
<polygon points="482.6,187.0 481.8,195.0 481.2,204.0 480.7,214.0 480.4,224.0 480.2,234.0 480.0,247.0 486.0,247.0 488.5,241.0 490.3,232.0 489.8,223.0 486.0,217.0 484.8,208.0 484.0,198.0 483.4,190.0" fill="#a0a0a0"/>
<circle cx="452.5" cy="231.2" r="0.75" fill="#9e9e9e"/>
<circle cx="453.1" cy="244.0" r="0.75" fill="#9e9e9e"/>
<circle cx="452.2" cy="232.7" r="0.75" fill="#9e9e9e"/>
<circle cx="453.2" cy="224.0" r="0.75" fill="#9e9e9e"/>
<circle cx="449.8" cy="236.0" r="0.75" fill="#9e9e9e"/>
<circle cx="455.0" cy="221.5" r="0.75" fill="#9e9e9e"/>
<circle cx="450.4" cy="221.4" r="0.75" fill="#9e9e9e"/>
<circle cx="456.4" cy="237.7" r="0.75" fill="#9e9e9e"/>
<circle cx="447.0" cy="245.5" r="0.75" fill="#9e9e9e"/>
<circle cx="451.8" cy="236.7" r="0.75" fill="#9e9e9e"/>
<circle cx="456.5" cy="223.3" r="0.75" fill="#9e9e9e"/>
<circle cx="456.3" cy="233.3" r="0.75" fill="#9e9e9e"/>
<circle cx="455.4" cy="224.1" r="0.75" fill="#9e9e9e"/>
<circle cx="453.7" cy="219.8" r="0.75" fill="#9e9e9e"/>
<circle cx="449.5" cy="230.9" r="0.75" fill="#9e9e9e"/>
<circle cx="451.7" cy="233.0" r="0.75" fill="#9e9e9e"/>
<circle cx="451.4" cy="232.5" r="0.75" fill="#9e9e9e"/>
<circle cx="455.0" cy="231.3" r="0.75" fill="#9e9e9e"/>
<circle cx="446.6" cy="245.9" r="0.75" fill="#9e9e9e"/>
<circle cx="450.5" cy="241.7" r="0.75" fill="#9e9e9e"/>
<circle cx="455.4" cy="227.5" r="0.75" fill="#9e9e9e"/>
<circle cx="456.3" cy="226.8" r="0.75" fill="#9e9e9e"/>
<circle cx="453.9" cy="239.7" r="0.75" fill="#9e9e9e"/>
<circle cx="453.9" cy="241.9" r="0.75" fill="#9e9e9e"/>
<circle cx="448.6" cy="244.9" r="0.75" fill="#9e9e9e"/>
<circle cx="455.6" cy="219.0" r="0.75" fill="#9e9e9e"/>
<circle cx="453.1" cy="243.6" r="0.75" fill="#9e9e9e"/>
<circle cx="453.8" cy="245.5" r="0.75" fill="#9e9e9e"/>
<circle cx="452.2" cy="221.0" r="0.75" fill="#9e9e9e"/>
<circle cx="455.0" cy="240.0" r="0.75" fill="#9e9e9e"/>
<circle cx="454.7" cy="221.4" r="0.75" fill="#9e9e9e"/>
<circle cx="449.8" cy="245.0" r="0.75" fill="#9e9e9e"/>
<circle cx="455.3" cy="222.2" r="0.75" fill="#9e9e9e"/>
<circle cx="456.3" cy="221.7" r="0.75" fill="#9e9e9e"/>
<circle cx="455.6" cy="240.5" r="0.75" fill="#9e9e9e"/>
<circle cx="453.5" cy="234.1" r="0.75" fill="#9e9e9e"/>
<circle cx="451.1" cy="224.1" r="0.75" fill="#9e9e9e"/>
<circle cx="452.0" cy="222.5" r="0.75" fill="#9e9e9e"/>
<circle cx="454.0" cy="222.1" r="0.75" fill="#9e9e9e"/>
<circle cx="455.2" cy="224.7" r="0.75" fill="#9e9e9e"/>
<circle cx="449.2" cy="245.2" r="0.75" fill="#9e9e9e"/>
<circle cx="449.2" cy="227.2" r="0.75" fill="#9e9e9e"/>
<circle cx="454.2" cy="224.7" r="0.75" fill="#9e9e9e"/>
<circle cx="451.3" cy="242.1" r="0.75" fill="#9e9e9e"/>
<circle cx="448.4" cy="221.7" r="0.75" fill="#9e9e9e"/>
<circle cx="455.2" cy="224.8" r="0.75" fill="#9e9e9e"/>
<circle cx="454.5" cy="239.9" r="0.75" fill="#9e9e9e"/>
<circle cx="456.3" cy="227.0" r="0.75" fill="#9e9e9e"/>
<circle cx="452.7" cy="221.4" r="0.75" fill="#9e9e9e"/>
<circle cx="452.3" cy="225.6" r="0.75" fill="#9e9e9e"/>
<circle cx="453.6" cy="229.0" r="0.75" fill="#9e9e9e"/>
<circle cx="452.9" cy="244.9" r="0.75" fill="#9e9e9e"/>
<circle cx="449.0" cy="234.5" r="0.75" fill="#9e9e9e"/>
<circle cx="455.9" cy="223.9" r="0.75" fill="#9e9e9e"/>
<circle cx="449.1" cy="243.5" r="0.75" fill="#9e9e9e"/>
<circle cx="455.7" cy="225.7" r="0.75" fill="#9e9e9e"/>
<circle cx="447.8" cy="239.0" r="0.75" fill="#9e9e9e"/>
<circle cx="448.7" cy="224.3" r="0.75" fill="#9e9e9e"/>
<circle cx="451.7" cy="242.8" r="0.75" fill="#9e9e9e"/>
<circle cx="456.1" cy="230.4" r="0.75" fill="#9e9e9e"/>
<circle cx="448.8" cy="220.0" r="0.75" fill="#9e9e9e"/>
<circle cx="451.3" cy="225.4" r="0.75" fill="#9e9e9e"/>
<circle cx="450.0" cy="225.9" r="0.75" fill="#9e9e9e"/>
<circle cx="454.8" cy="235.1" r="0.75" fill="#9e9e9e"/>
<circle cx="451.2" cy="223.7" r="0.75" fill="#9e9e9e"/>
<circle cx="455.5" cy="220.9" r="0.75" fill="#9e9e9e"/>
<circle cx="449.2" cy="234.1" r="0.75" fill="#9e9e9e"/>
<circle cx="454.9" cy="235.6" r="0.75" fill="#9e9e9e"/>
<circle cx="455.4" cy="243.8" r="0.75" fill="#9e9e9e"/>
<circle cx="455.2" cy="219.4" r="0.75" fill="#9e9e9e"/>
<circle cx="456.3" cy="231.0" r="0.75" fill="#9e9e9e"/>
<circle cx="454.4" cy="223.8" r="0.75" fill="#9e9e9e"/>
<circle cx="456.0" cy="234.4" r="0.75" fill="#9e9e9e"/>
<circle cx="449.1" cy="228.8" r="0.75" fill="#9e9e9e"/>
<circle cx="451.0" cy="245.5" r="0.75" fill="#9e9e9e"/>
<circle cx="452.1" cy="237.7" r="0.75" fill="#9e9e9e"/>
<circle cx="456.4" cy="222.8" r="0.75" fill="#9e9e9e"/>
<circle cx="449.5" cy="219.5" r="0.75" fill="#9e9e9e"/>
<circle cx="447.6" cy="237.9" r="0.75" fill="#9e9e9e"/>
<circle cx="452.2" cy="219.6" r="0.75" fill="#9e9e9e"/>
<circle cx="450.7" cy="232.0" r="0.75" fill="#9e9e9e"/>
<circle cx="447.9" cy="227.6" r="0.75" fill="#9e9e9e"/>
<circle cx="453.0" cy="221.0" r="0.75" fill="#9e9e9e"/>
<circle cx="448.3" cy="238.9" r="0.75" fill="#9e9e9e"/>
<circle cx="450.7" cy="238.9" r="0.75" fill="#9e9e9e"/>
<circle cx="448.0" cy="240.4" r="0.75" fill="#9e9e9e"/>
<circle cx="451.4" cy="228.5" r="0.75" fill="#9e9e9e"/>
<circle cx="448.4" cy="243.3" r="0.75" fill="#9e9e9e"/>
<circle cx="450.1" cy="230.3" r="0.75" fill="#9e9e9e"/>
<circle cx="452.0" cy="242.3" r="0.75" fill="#9e9e9e"/>
<circle cx="454.1" cy="235.9" r="0.75" fill="#9e9e9e"/>
<circle cx="451.9" cy="234.7" r="0.75" fill="#9e9e9e"/>
<circle cx="452.1" cy="221.2" r="0.75" fill="#9e9e9e"/>
<circle cx="448.2" cy="245.8" r="0.75" fill="#9e9e9e"/>
<circle cx="454.0" cy="238.7" r="0.75" fill="#9e9e9e"/>
<circle cx="452.1" cy="238.8" r="0.75" fill="#9e9e9e"/>
<circle cx="449.6" cy="230.9" r="0.75" fill="#9e9e9e"/>
<circle cx="451.0" cy="221.3" r="0.75" fill="#9e9e9e"/>
<circle cx="452.5" cy="219.8" r="0.75" fill="#9e9e9e"/>
<circle cx="455.4" cy="232.0" r="0.75" fill="#9e9e9e"/>
<circle cx="453.0" cy="237.9" r="0.75" fill="#9e9e9e"/>
<circle cx="448.3" cy="235.6" r="0.75" fill="#9e9e9e"/>
<circle cx="456.5" cy="225.9" r="0.75" fill="#9e9e9e"/>
<circle cx="451.5" cy="227.1" r="0.75" fill="#9e9e9e"/>
<circle cx="455.8" cy="224.5" r="0.75" fill="#9e9e9e"/>
<circle cx="451.0" cy="243.5" r="0.75" fill="#9e9e9e"/>
<circle cx="448.9" cy="230.9" r="0.75" fill="#9e9e9e"/>
<circle cx="451.6" cy="227.8" r="0.75" fill="#9e9e9e"/>
<circle cx="453.9" cy="224.4" r="0.75" fill="#9e9e9e"/>
<circle cx="448.0" cy="240.8" r="0.75" fill="#9e9e9e"/>
<circle cx="490.4" cy="242.8" r="0.75" fill="#a2a2a2"/>
<circle cx="490.0" cy="234.7" r="0.75" fill="#a2a2a2"/>
<circle cx="492.3" cy="222.7" r="0.75" fill="#a2a2a2"/>
<circle cx="495.8" cy="241.6" r="0.75" fill="#a2a2a2"/>
<circle cx="497.8" cy="238.2" r="0.75" fill="#a2a2a2"/>
<circle cx="489.1" cy="226.5" r="0.75" fill="#a2a2a2"/>
<circle cx="489.7" cy="231.2" r="0.75" fill="#a2a2a2"/>
<circle cx="491.2" cy="224.8" r="0.75" fill="#a2a2a2"/>
<circle cx="491.7" cy="235.9" r="0.75" fill="#a2a2a2"/>
<circle cx="497.2" cy="227.5" r="0.75" fill="#a2a2a2"/>
<circle cx="490.9" cy="245.5" r="0.75" fill="#a2a2a2"/>
<circle cx="488.5" cy="221.0" r="0.75" fill="#a2a2a2"/>
<circle cx="488.5" cy="242.6" r="0.75" fill="#a2a2a2"/>
<circle cx="492.4" cy="238.1" r="0.75" fill="#a2a2a2"/>
<circle cx="496.4" cy="227.3" r="0.75" fill="#a2a2a2"/>
<circle cx="488.9" cy="219.5" r="0.75" fill="#a2a2a2"/>
<circle cx="488.5" cy="231.3" r="0.75" fill="#a2a2a2"/>
<circle cx="489.3" cy="241.4" r="0.75" fill="#a2a2a2"/>
<circle cx="488.6" cy="222.8" r="0.75" fill="#a2a2a2"/>
<circle cx="491.2" cy="236.0" r="0.75" fill="#a2a2a2"/>
<circle cx="493.6" cy="236.0" r="0.75" fill="#a2a2a2"/>
<circle cx="497.6" cy="240.8" r="0.75" fill="#a2a2a2"/>
<circle cx="489.2" cy="237.5" r="0.75" fill="#a2a2a2"/>
<circle cx="489.1" cy="231.8" r="0.75" fill="#a2a2a2"/>
<circle cx="492.1" cy="219.3" r="0.75" fill="#a2a2a2"/>
<circle cx="489.0" cy="238.3" r="0.75" fill="#a2a2a2"/>
<circle cx="490.5" cy="226.4" r="0.75" fill="#a2a2a2"/>
<circle cx="491.9" cy="237.8" r="0.75" fill="#a2a2a2"/>
<circle cx="495.1" cy="235.6" r="0.75" fill="#a2a2a2"/>
<circle cx="496.2" cy="229.6" r="0.75" fill="#a2a2a2"/>
<circle cx="488.6" cy="243.5" r="0.75" fill="#a2a2a2"/>
<circle cx="493.8" cy="244.2" r="0.75" fill="#a2a2a2"/>
<circle cx="491.8" cy="222.5" r="0.75" fill="#a2a2a2"/>
<circle cx="497.4" cy="235.9" r="0.75" fill="#a2a2a2"/>
<circle cx="492.9" cy="229.2" r="0.75" fill="#a2a2a2"/>
<circle cx="494.9" cy="242.7" r="0.75" fill="#a2a2a2"/>
<circle cx="491.0" cy="244.5" r="0.75" fill="#a2a2a2"/>
<circle cx="489.2" cy="236.6" r="0.75" fill="#a2a2a2"/>
<circle cx="495.7" cy="238.5" r="0.75" fill="#a2a2a2"/>
<circle cx="494.4" cy="236.3" r="0.75" fill="#a2a2a2"/>
<circle cx="498.7" cy="224.8" r="0.75" fill="#a2a2a2"/>
<circle cx="497.2" cy="245.5" r="0.75" fill="#a2a2a2"/>
<circle cx="495.8" cy="233.5" r="0.75" fill="#a2a2a2"/>
<circle cx="498.5" cy="227.7" r="0.75" fill="#a2a2a2"/>
<circle cx="490.1" cy="242.1" r="0.75" fill="#a2a2a2"/>
<circle cx="491.6" cy="221.2" r="0.75" fill="#a2a2a2"/>
<circle cx="495.4" cy="233.9" r="0.75" fill="#a2a2a2"/>
<circle cx="488.5" cy="232.2" r="0.75" fill="#a2a2a2"/>
<circle cx="488.6" cy="240.8" r="0.75" fill="#a2a2a2"/>
<circle cx="489.0" cy="240.6" r="0.75" fill="#a2a2a2"/>
<circle cx="496.3" cy="228.0" r="0.75" fill="#a2a2a2"/>
<circle cx="489.0" cy="222.8" r="0.75" fill="#a2a2a2"/>
<circle cx="494.8" cy="232.9" r="0.75" fill="#a2a2a2"/>
<circle cx="493.6" cy="241.7" r="0.75" fill="#a2a2a2"/>
<circle cx="491.3" cy="244.5" r="0.75" fill="#a2a2a2"/>
<circle cx="488.6" cy="244.6" r="0.75" fill="#a2a2a2"/>
<circle cx="492.6" cy="225.0" r="0.75" fill="#a2a2a2"/>
<circle cx="495.4" cy="226.8" r="0.75" fill="#a2a2a2"/>
<circle cx="492.0" cy="236.2" r="0.75" fill="#a2a2a2"/>
<circle cx="492.1" cy="241.8" r="0.75" fill="#a2a2a2"/>
<circle cx="490.8" cy="227.4" r="0.75" fill="#a2a2a2"/>
<circle cx="496.5" cy="241.8" r="0.75" fill="#a2a2a2"/>
<circle cx="497.7" cy="224.6" r="0.75" fill="#a2a2a2"/>
<circle cx="491.5" cy="245.1" r="0.75" fill="#a2a2a2"/>
<circle cx="489.2" cy="234.5" r="0.75" fill="#a2a2a2"/>
<circle cx="491.9" cy="233.5" r="0.75" fill="#a2a2a2"/>
<circle cx="488.5" cy="235.3" r="0.75" fill="#a2a2a2"/>
<circle cx="491.5" cy="245.2" r="0.75" fill="#a2a2a2"/>
<circle cx="496.3" cy="229.8" r="0.75" fill="#a2a2a2"/>
<circle cx="491.7" cy="234.2" r="0.75" fill="#a2a2a2"/>
<circle cx="488.6" cy="237.7" r="0.75" fill="#a2a2a2"/>
<circle cx="490.9" cy="233.5" r="0.75" fill="#a2a2a2"/>
<circle cx="496.5" cy="244.8" r="0.75" fill="#a2a2a2"/>
<circle cx="491.8" cy="226.3" r="0.75" fill="#a2a2a2"/>
<circle cx="491.5" cy="222.4" r="0.75" fill="#a2a2a2"/>
<circle cx="496.6" cy="241.0" r="0.75" fill="#a2a2a2"/>
<circle cx="490.1" cy="231.9" r="0.75" fill="#a2a2a2"/>
<circle cx="493.9" cy="224.2" r="0.75" fill="#a2a2a2"/>
<circle cx="488.8" cy="244.0" r="0.75" fill="#a2a2a2"/>
<circle cx="488.5" cy="240.0" r="0.75" fill="#a2a2a2"/>
<circle cx="489.5" cy="224.2" r="0.75" fill="#a2a2a2"/>
<circle cx="490.0" cy="237.5" r="0.75" fill="#a2a2a2"/>
<circle cx="493.6" cy="228.6" r="0.75" fill="#a2a2a2"/>
<circle cx="495.9" cy="221.8" r="0.75" fill="#a2a2a2"/>
<circle cx="492.5" cy="222.3" r="0.75" fill="#a2a2a2"/>
<circle cx="489.3" cy="225.8" r="0.75" fill="#a2a2a2"/>
<circle cx="491.2" cy="233.3" r="0.75" fill="#a2a2a2"/>
<circle cx="491.1" cy="229.1" r="0.75" fill="#a2a2a2"/>
<circle cx="489.0" cy="233.3" r="0.75" fill="#a2a2a2"/>
<circle cx="494.1" cy="224.5" r="0.75" fill="#a2a2a2"/>
<circle cx="492.0" cy="236.2" r="0.75" fill="#a2a2a2"/>
<circle cx="492.7" cy="242.0" r="0.75" fill="#a2a2a2"/>
<circle cx="489.3" cy="242.1" r="0.75" fill="#a2a2a2"/>
<circle cx="495.5" cy="239.0" r="0.75" fill="#a2a2a2"/>
<circle cx="489.8" cy="243.4" r="0.75" fill="#a2a2a2"/>
<circle cx="498.7" cy="227.5" r="0.75" fill="#a2a2a2"/>
<circle cx="500.6" cy="224.9" r="0.75" fill="#a2a2a2"/>
<circle cx="488.8" cy="243.0" r="0.75" fill="#a2a2a2"/>
<circle cx="495.5" cy="225.5" r="0.75" fill="#a2a2a2"/>
<circle cx="488.7" cy="226.0" r="0.75" fill="#a2a2a2"/>
<circle cx="490.7" cy="241.5" r="0.75" fill="#a2a2a2"/>
<circle cx="488.8" cy="240.3" r="0.75" fill="#a2a2a2"/>
<circle cx="494.5" cy="229.9" r="0.75" fill="#a2a2a2"/>
<circle cx="489.3" cy="219.5" r="0.75" fill="#a2a2a2"/>
<circle cx="497.3" cy="237.4" r="0.75" fill="#a2a2a2"/>
<circle cx="488.7" cy="245.1" r="0.75" fill="#a2a2a2"/>
<circle cx="495.4" cy="232.7" r="0.75" fill="#a2a2a2"/>
<circle cx="494.3" cy="232.6" r="0.75" fill="#a2a2a2"/>
<circle cx="488.6" cy="224.1" r="0.75" fill="#a2a2a2"/>
<circle cx="488.5" cy="221.9" r="0.75" fill="#a2a2a2"/>
<circle cx="492.0" cy="233.9" r="0.75" fill="#a2a2a2"/>
<circle cx="488.9" cy="234.4" r="0.75" fill="#a2a2a2"/>
<circle cx="489.3" cy="224.0" r="0.75" fill="#a2a2a2"/>
<circle cx="498.0" cy="241.7" r="0.75" fill="#a2a2a2"/>
<circle cx="488.7" cy="244.0" r="0.75" fill="#a2a2a2"/>
<circle cx="500.2" cy="220.7" r="0.75" fill="#a2a2a2"/>
<circle cx="495.6" cy="231.5" r="0.75" fill="#a2a2a2"/>
<circle cx="491.7" cy="227.8" r="0.75" fill="#a2a2a2"/>
<circle cx="491.1" cy="232.9" r="0.75" fill="#a2a2a2"/>
<circle cx="488.5" cy="235.2" r="0.75" fill="#a2a2a2"/>
<circle cx="496.1" cy="237.9" r="0.75" fill="#a2a2a2"/>
<circle cx="491.7" cy="223.9" r="0.75" fill="#a2a2a2"/>
<circle cx="490.7" cy="239.0" r="0.75" fill="#a2a2a2"/>
<circle cx="489.1" cy="224.3" r="0.75" fill="#a2a2a2"/>
<circle cx="488.5" cy="232.8" r="0.75" fill="#a2a2a2"/>
<circle cx="495.0" cy="243.1" r="0.75" fill="#a2a2a2"/>
<circle cx="496.4" cy="238.0" r="0.75" fill="#a2a2a2"/>
<circle cx="490.8" cy="236.0" r="0.75" fill="#a2a2a2"/>
<circle cx="491.8" cy="235.2" r="0.75" fill="#a2a2a2"/>
<circle cx="494.8" cy="245.5" r="0.75" fill="#a2a2a2"/>
<circle cx="505.0" cy="239.0" r="0.55" fill="#aaaaaa"/>
<circle cx="510.0" cy="242.0" r="0.55" fill="#aaaaaa"/>
<circle cx="513.0" cy="245.0" r="0.55" fill="#aaaaaa"/>
<circle cx="500.0" cy="244.0" r="0.55" fill="#aaaaaa"/>
<circle cx="506.0" cy="246.0" r="0.55" fill="#aaaaaa"/>
<circle cx="498.0" cy="236.0" r="0.55" fill="#aaaaaa"/>
<circle cx="503.0" cy="232.0" r="0.55" fill="#aaaaaa"/>
<circle cx="496.0" cy="228.0" r="0.55" fill="#aaaaaa"/>
<circle cx="452.0" cy="240.0" r="0.55" fill="#aaaaaa"/>
<circle cx="448.0" cy="236.0" r="0.55" fill="#aaaaaa"/>
<circle cx="447.0" cy="229.0" r="0.55" fill="#aaaaaa"/>
<circle cx="444.0" cy="233.0" r="0.55" fill="#aaaaaa"/>
<circle cx="512.0" cy="236.0" r="0.55" fill="#aaaaaa"/>
<circle cx="508.0" cy="231.0" r="0.55" fill="#aaaaaa"/>
<circle cx="453.3" cy="188.1" r="0.62" fill="#1f3f8a"/>
<circle cx="451.9" cy="207.0" r="0.62" fill="#1f3f8a"/>
<circle cx="456.1" cy="209.8" r="0.62" fill="#1f3f8a"/>
<circle cx="449.8" cy="213.0" r="0.62" fill="#1f3f8a"/>
<circle cx="452.3" cy="205.1" r="0.62" fill="#1f3f8a"/>
<circle cx="456.2" cy="207.8" r="0.62" fill="#1f3f8a"/>
<circle cx="459.4" cy="206.2" r="0.62" fill="#1f3f8a"/>
<circle cx="456.3" cy="191.3" r="0.62" fill="#1f3f8a"/>
<circle cx="457.3" cy="178.4" r="0.62" fill="#1f3f8a"/>
<circle cx="454.1" cy="202.9" r="0.62" fill="#1f3f8a"/>
<circle cx="453.2" cy="187.1" r="0.62" fill="#1f3f8a"/>
<circle cx="457.0" cy="204.0" r="0.62" fill="#1f3f8a"/>
<circle cx="454.6" cy="203.7" r="0.62" fill="#1f3f8a"/>
<circle cx="456.6" cy="198.8" r="0.62" fill="#1f3f8a"/>
<circle cx="452.7" cy="217.0" r="0.62" fill="#1f3f8a"/>
<circle cx="452.3" cy="205.3" r="0.62" fill="#1f3f8a"/>
<circle cx="460.1" cy="216.2" r="0.62" fill="#1f3f8a"/>
<circle cx="453.0" cy="202.0" r="0.62" fill="#1f3f8a"/>
<circle cx="456.9" cy="188.0" r="0.62" fill="#1f3f8a"/>
<circle cx="458.0" cy="180.0" r="0.62" fill="#1f3f8a"/>
<circle cx="458.7" cy="192.7" r="0.62" fill="#1f3f8a"/>
<circle cx="453.4" cy="187.8" r="0.62" fill="#1f3f8a"/>
<circle cx="455.5" cy="199.5" r="0.62" fill="#1f3f8a"/>
<circle cx="453.8" cy="215.7" r="0.62" fill="#1f3f8a"/>
<circle cx="452.7" cy="216.8" r="0.62" fill="#1f3f8a"/>
<circle cx="459.4" cy="209.6" r="0.62" fill="#1f3f8a"/>
<circle cx="452.8" cy="201.3" r="0.62" fill="#1f3f8a"/>
<circle cx="454.5" cy="179.8" r="0.62" fill="#1f3f8a"/>
<circle cx="456.6" cy="184.2" r="0.62" fill="#1f3f8a"/>
<circle cx="456.4" cy="184.6" r="0.62" fill="#1f3f8a"/>
<circle cx="459.3" cy="201.8" r="0.62" fill="#1f3f8a"/>
<circle cx="455.8" cy="214.9" r="0.62" fill="#1f3f8a"/>
<circle cx="454.7" cy="198.5" r="0.62" fill="#1f3f8a"/>
<circle cx="457.5" cy="192.3" r="0.62" fill="#1f3f8a"/>
<circle cx="454.7" cy="203.5" r="0.62" fill="#1f3f8a"/>
<circle cx="454.6" cy="189.1" r="0.62" fill="#1f3f8a"/>
<circle cx="459.0" cy="189.5" r="0.62" fill="#1f3f8a"/>
<circle cx="458.8" cy="187.6" r="0.62" fill="#1f3f8a"/>
<circle cx="454.9" cy="184.1" r="0.62" fill="#1f3f8a"/>
<circle cx="452.6" cy="193.2" r="0.62" fill="#1f3f8a"/>
<circle cx="459.6" cy="207.2" r="0.62" fill="#1f3f8a"/>
<circle cx="448.2" cy="216.6" r="0.62" fill="#1f3f8a"/>
<circle cx="454.5" cy="180.9" r="0.62" fill="#1f3f8a"/>
<circle cx="456.0" cy="194.8" r="0.62" fill="#1f3f8a"/>
<circle cx="457.9" cy="216.0" r="0.62" fill="#1f3f8a"/>
<circle cx="451.4" cy="198.4" r="0.62" fill="#1f3f8a"/>
<circle cx="455.6" cy="206.2" r="0.62" fill="#1f3f8a"/>
<circle cx="450.2" cy="216.2" r="0.62" fill="#1f3f8a"/>
<circle cx="458.9" cy="201.5" r="0.62" fill="#1f3f8a"/>
<circle cx="455.9" cy="202.3" r="0.62" fill="#1f3f8a"/>
<circle cx="458.7" cy="185.9" r="0.62" fill="#1f3f8a"/>
<circle cx="458.7" cy="198.6" r="0.62" fill="#1f3f8a"/>
<circle cx="454.4" cy="195.3" r="0.62" fill="#1f3f8a"/>
<circle cx="457.7" cy="195.8" r="0.62" fill="#1f3f8a"/>
<circle cx="456.3" cy="200.7" r="0.62" fill="#1f3f8a"/>
<circle cx="454.8" cy="208.3" r="0.62" fill="#1f3f8a"/>
<circle cx="448.1" cy="216.9" r="0.62" fill="#1f3f8a"/>
<circle cx="457.9" cy="206.6" r="0.62" fill="#1f3f8a"/>
<circle cx="454.3" cy="182.4" r="0.62" fill="#1f3f8a"/>
<circle cx="453.6" cy="208.6" r="0.62" fill="#1f3f8a"/>
<circle cx="457.6" cy="192.0" r="0.62" fill="#1f3f8a"/>
<circle cx="454.6" cy="204.7" r="0.62" fill="#1f3f8a"/>
<circle cx="454.2" cy="201.1" r="0.62" fill="#1f3f8a"/>
<circle cx="458.4" cy="207.4" r="0.62" fill="#1f3f8a"/>
<circle cx="452.9" cy="187.7" r="0.62" fill="#1f3f8a"/>
<circle cx="449.7" cy="213.7" r="0.62" fill="#1f3f8a"/>
<circle cx="458.4" cy="179.5" r="0.62" fill="#1f3f8a"/>
<circle cx="456.7" cy="188.6" r="0.62" fill="#1f3f8a"/>
<circle cx="459.0" cy="202.3" r="0.62" fill="#1f3f8a"/>
<circle cx="459.1" cy="199.1" r="0.62" fill="#1f3f8a"/>
<circle cx="455.7" cy="181.4" r="0.62" fill="#1f3f8a"/>
<circle cx="454.3" cy="199.5" r="0.62" fill="#1f3f8a"/>
<circle cx="456.1" cy="192.6" r="0.62" fill="#1f3f8a"/>
<circle cx="457.2" cy="186.2" r="0.62" fill="#1f3f8a"/>
<circle cx="451.2" cy="207.0" r="0.62" fill="#1f3f8a"/>
<circle cx="458.3" cy="180.9" r="0.62" fill="#1f3f8a"/>
<circle cx="453.6" cy="209.6" r="0.62" fill="#1f3f8a"/>
<circle cx="458.2" cy="208.0" r="0.62" fill="#1f3f8a"/>
<circle cx="457.7" cy="194.6" r="0.62" fill="#1f3f8a"/>
<circle cx="456.5" cy="209.6" r="0.62" fill="#1f3f8a"/>
<circle cx="449.9" cy="203.5" r="0.62" fill="#1f3f8a"/>
<circle cx="455.7" cy="190.7" r="0.62" fill="#1f3f8a"/>
<circle cx="450.1" cy="207.1" r="0.62" fill="#1f3f8a"/>
<circle cx="456.9" cy="194.7" r="0.62" fill="#1f3f8a"/>
<circle cx="454.5" cy="181.8" r="0.62" fill="#1f3f8a"/>
<circle cx="458.4" cy="181.1" r="0.62" fill="#1f3f8a"/>
<circle cx="455.7" cy="200.0" r="0.62" fill="#1f3f8a"/>
<circle cx="457.3" cy="204.7" r="0.62" fill="#1f3f8a"/>
<circle cx="459.4" cy="208.2" r="0.62" fill="#1f3f8a"/>
<circle cx="455.3" cy="186.3" r="0.62" fill="#1f3f8a"/>
<circle cx="457.5" cy="181.2" r="0.62" fill="#1f3f8a"/>
<circle cx="453.0" cy="206.3" r="0.62" fill="#1f3f8a"/>
<circle cx="458.4" cy="189.0" r="0.62" fill="#1f3f8a"/>
<circle cx="454.2" cy="192.0" r="0.62" fill="#1f3f8a"/>
<circle cx="458.6" cy="192.3" r="0.62" fill="#1f3f8a"/>
<circle cx="454.5" cy="205.7" r="0.62" fill="#1f3f8a"/>
<circle cx="448.8" cy="213.8" r="0.62" fill="#1f3f8a"/>
<circle cx="455.6" cy="213.6" r="0.62" fill="#1f3f8a"/>
<circle cx="457.2" cy="209.3" r="0.62" fill="#1f3f8a"/>
<circle cx="456.8" cy="190.4" r="0.62" fill="#1f3f8a"/>
<circle cx="449.3" cy="214.5" r="0.62" fill="#1f3f8a"/>
<circle cx="457.1" cy="187.7" r="0.62" fill="#1f3f8a"/>
<circle cx="457.0" cy="192.3" r="0.62" fill="#1f3f8a"/>
<circle cx="456.8" cy="193.4" r="0.62" fill="#1f3f8a"/>
<circle cx="456.0" cy="185.6" r="0.62" fill="#1f3f8a"/>
<circle cx="454.6" cy="209.1" r="0.62" fill="#1f3f8a"/>
<circle cx="454.2" cy="210.6" r="0.62" fill="#1f3f8a"/>
<circle cx="454.8" cy="184.9" r="0.62" fill="#1f3f8a"/>
<circle cx="457.5" cy="212.4" r="0.62" fill="#1f3f8a"/>
<circle cx="456.6" cy="178.9" r="0.62" fill="#1f3f8a"/>
<circle cx="455.0" cy="199.2" r="0.62" fill="#1f3f8a"/>
<circle cx="452.7" cy="215.7" r="0.62" fill="#1f3f8a"/>
<circle cx="459.5" cy="209.4" r="0.62" fill="#1f3f8a"/>
<circle cx="452.8" cy="199.3" r="0.62" fill="#1f3f8a"/>
<circle cx="458.4" cy="181.3" r="0.62" fill="#1f3f8a"/>
<circle cx="450.5" cy="206.7" r="0.62" fill="#1f3f8a"/>
<circle cx="455.9" cy="181.3" r="0.62" fill="#1f3f8a"/>
<circle cx="455.0" cy="183.6" r="0.62" fill="#1f3f8a"/>
<circle cx="457.8" cy="203.3" r="0.62" fill="#1f3f8a"/>
<circle cx="454.6" cy="186.6" r="0.62" fill="#1f3f8a"/>
<circle cx="453.1" cy="198.3" r="0.62" fill="#1f3f8a"/>
<circle cx="457.2" cy="193.4" r="0.62" fill="#1f3f8a"/>
<circle cx="452.3" cy="215.8" r="0.62" fill="#1f3f8a"/>
<circle cx="455.4" cy="197.3" r="0.62" fill="#1f3f8a"/>
<circle cx="452.9" cy="206.1" r="0.62" fill="#1f3f8a"/>
<circle cx="455.9" cy="213.7" r="0.62" fill="#1f3f8a"/>
<circle cx="453.0" cy="210.2" r="0.62" fill="#1f3f8a"/>
<circle cx="451.0" cy="211.3" r="0.62" fill="#1f3f8a"/>
<circle cx="450.0" cy="210.5" r="0.62" fill="#1f3f8a"/>
<circle cx="452.8" cy="215.4" r="0.62" fill="#1f3f8a"/>
<circle cx="453.7" cy="198.4" r="0.62" fill="#1f3f8a"/>
<circle cx="456.0" cy="209.3" r="0.62" fill="#1f3f8a"/>
<circle cx="458.5" cy="194.4" r="0.62" fill="#1f3f8a"/>
<circle cx="449.3" cy="206.9" r="0.62" fill="#1f3f8a"/>
<circle cx="458.3" cy="192.6" r="0.62" fill="#1f3f8a"/>
<circle cx="456.8" cy="186.0" r="0.62" fill="#1f3f8a"/>
<circle cx="452.6" cy="189.4" r="0.62" fill="#1f3f8a"/>
<circle cx="457.5" cy="180.3" r="0.62" fill="#1f3f8a"/>
<circle cx="455.7" cy="182.5" r="0.62" fill="#1f3f8a"/>
<circle cx="458.5" cy="208.3" r="0.62" fill="#1f3f8a"/>
<circle cx="456.8" cy="180.4" r="0.62" fill="#1f3f8a"/>
<circle cx="451.3" cy="200.8" r="0.62" fill="#1f3f8a"/>
<circle cx="458.3" cy="179.4" r="0.62" fill="#1f3f8a"/>
<circle cx="457.9" cy="185.2" r="0.62" fill="#1f3f8a"/>
<circle cx="454.8" cy="187.2" r="0.62" fill="#1f3f8a"/>
<circle cx="458.0" cy="201.2" r="0.62" fill="#1f3f8a"/>
<circle cx="457.6" cy="185.2" r="0.62" fill="#1f3f8a"/>
<circle cx="454.8" cy="184.7" r="0.62" fill="#1f3f8a"/>
<circle cx="455.8" cy="190.2" r="0.62" fill="#1f3f8a"/>
<circle cx="455.3" cy="209.9" r="0.62" fill="#1f3f8a"/>
<circle cx="441.0" cy="198.0" r="0.6" fill="#3c5c9c"/>
<circle cx="437.0" cy="210.0" r="0.6" fill="#3c5c9c"/>
<circle cx="431.0" cy="214.0" r="0.6" fill="#3c5c9c"/>
<circle cx="446.0" cy="187.0" r="0.6" fill="#3c5c9c"/>
<circle cx="445.0" cy="176.0" r="0.6" fill="#3c5c9c"/>
<circle cx="439.0" cy="205.0" r="0.6" fill="#3c5c9c"/>
<circle cx="442.0" cy="191.0" r="0.6" fill="#3c5c9c"/>
<circle cx="446.0" cy="214.0" r="0.6" fill="#3c5c9c"/>
<circle cx="451.0" cy="182.0" r="0.6" fill="#3c5c9c"/>
<circle cx="444.0" cy="206.0" r="0.6" fill="#3c5c9c"/>
<circle cx="488.6" cy="190.4" r="0.62" fill="#e2202f"/>
<circle cx="485.7" cy="213.9" r="0.62" fill="#e2202f"/>
<circle cx="490.6" cy="200.7" r="0.62" fill="#e2202f"/>
<circle cx="484.2" cy="198.4" r="0.62" fill="#e2202f"/>
<circle cx="488.0" cy="182.8" r="0.62" fill="#e2202f"/>
<circle cx="486.0" cy="209.9" r="0.62" fill="#e2202f"/>
<circle cx="486.6" cy="200.0" r="0.62" fill="#e2202f"/>
<circle cx="489.4" cy="190.9" r="0.62" fill="#e2202f"/>
<circle cx="484.4" cy="204.7" r="0.62" fill="#e2202f"/>
<circle cx="485.2" cy="181.4" r="0.62" fill="#e2202f"/>
<circle cx="488.4" cy="194.4" r="0.62" fill="#e2202f"/>
<circle cx="487.9" cy="206.7" r="0.62" fill="#e2202f"/>
<circle cx="483.7" cy="186.7" r="0.62" fill="#e2202f"/>
<circle cx="484.4" cy="192.6" r="0.62" fill="#e2202f"/>
<circle cx="487.4" cy="212.3" r="0.62" fill="#e2202f"/>
<circle cx="491.4" cy="203.9" r="0.62" fill="#e2202f"/>
<circle cx="486.2" cy="190.6" r="0.62" fill="#e2202f"/>
<circle cx="487.3" cy="186.4" r="0.62" fill="#e2202f"/>
<circle cx="487.0" cy="181.0" r="0.62" fill="#e2202f"/>
<circle cx="490.6" cy="211.5" r="0.62" fill="#e2202f"/>
<circle cx="484.3" cy="184.0" r="0.62" fill="#e2202f"/>
<circle cx="483.3" cy="206.8" r="0.62" fill="#e2202f"/>
<circle cx="486.1" cy="198.3" r="0.62" fill="#e2202f"/>
<circle cx="488.4" cy="215.4" r="0.62" fill="#e2202f"/>
<circle cx="485.2" cy="211.9" r="0.62" fill="#e2202f"/>
<circle cx="486.2" cy="209.4" r="0.62" fill="#e2202f"/>
<circle cx="483.2" cy="214.0" r="0.62" fill="#e2202f"/>
<circle cx="484.3" cy="210.7" r="0.62" fill="#e2202f"/>
<circle cx="486.7" cy="200.6" r="0.62" fill="#e2202f"/>
<circle cx="487.8" cy="186.7" r="0.62" fill="#e2202f"/>
<circle cx="484.7" cy="192.2" r="0.62" fill="#e2202f"/>
<circle cx="484.4" cy="183.7" r="0.62" fill="#e2202f"/>
<circle cx="488.1" cy="197.8" r="0.62" fill="#e2202f"/>
<circle cx="487.5" cy="193.9" r="0.62" fill="#e2202f"/>
<circle cx="485.0" cy="184.8" r="0.62" fill="#e2202f"/>
<circle cx="490.2" cy="197.6" r="0.62" fill="#e2202f"/>
<circle cx="488.8" cy="210.9" r="0.62" fill="#e2202f"/>
<circle cx="484.7" cy="181.4" r="0.62" fill="#e2202f"/>
<circle cx="484.5" cy="206.6" r="0.62" fill="#e2202f"/>
<circle cx="486.2" cy="201.3" r="0.62" fill="#e2202f"/>
<circle cx="488.0" cy="181.4" r="0.62" fill="#e2202f"/>
<circle cx="484.3" cy="209.8" r="0.62" fill="#e2202f"/>
<circle cx="484.9" cy="203.2" r="0.62" fill="#e2202f"/>
<circle cx="486.5" cy="194.5" r="0.62" fill="#e2202f"/>
<circle cx="484.9" cy="191.7" r="0.62" fill="#e2202f"/>
<circle cx="487.5" cy="195.1" r="0.62" fill="#e2202f"/>
<circle cx="484.0" cy="190.2" r="0.62" fill="#e2202f"/>
<circle cx="485.3" cy="207.3" r="0.62" fill="#e2202f"/>
<circle cx="488.1" cy="215.0" r="0.62" fill="#e2202f"/>
<circle cx="485.3" cy="207.1" r="0.62" fill="#e2202f"/>
<circle cx="483.2" cy="210.8" r="0.62" fill="#e2202f"/>
<circle cx="483.4" cy="186.1" r="0.62" fill="#e2202f"/>
<circle cx="488.8" cy="205.4" r="0.62" fill="#e2202f"/>
<circle cx="485.1" cy="187.5" r="0.62" fill="#e2202f"/>
<circle cx="488.1" cy="211.1" r="0.62" fill="#e2202f"/>
<circle cx="484.0" cy="184.2" r="0.62" fill="#e2202f"/>
<circle cx="483.5" cy="186.7" r="0.62" fill="#e2202f"/>
<circle cx="483.2" cy="195.6" r="0.62" fill="#e2202f"/>
<circle cx="486.6" cy="214.1" r="0.62" fill="#e2202f"/>
<circle cx="487.7" cy="199.4" r="0.62" fill="#e2202f"/>
<circle cx="490.3" cy="208.6" r="0.62" fill="#e2202f"/>
<circle cx="484.9" cy="194.9" r="0.62" fill="#e2202f"/>
<circle cx="482.8" cy="195.8" r="0.62" fill="#e2202f"/>
<circle cx="487.8" cy="195.4" r="0.62" fill="#e2202f"/>
<circle cx="490.8" cy="216.4" r="0.62" fill="#e2202f"/>
<circle cx="487.8" cy="204.8" r="0.62" fill="#e2202f"/>
<circle cx="484.5" cy="181.7" r="0.62" fill="#e2202f"/>
<circle cx="487.2" cy="193.3" r="0.62" fill="#e2202f"/>
<circle cx="484.9" cy="184.8" r="0.62" fill="#e2202f"/>
<circle cx="488.9" cy="199.3" r="0.62" fill="#e2202f"/>
<circle cx="488.3" cy="210.7" r="0.62" fill="#e2202f"/>
<circle cx="487.3" cy="186.7" r="0.62" fill="#e2202f"/>
<circle cx="487.8" cy="213.5" r="0.62" fill="#e2202f"/>
<circle cx="486.1" cy="193.7" r="0.62" fill="#e2202f"/>
<circle cx="487.0" cy="186.1" r="0.62" fill="#e2202f"/>
<circle cx="487.7" cy="216.5" r="0.62" fill="#e2202f"/>
<circle cx="490.2" cy="206.8" r="0.62" fill="#e2202f"/>
<circle cx="488.7" cy="188.1" r="0.62" fill="#e2202f"/>
<circle cx="484.1" cy="203.6" r="0.62" fill="#e2202f"/>
<circle cx="484.1" cy="184.0" r="0.62" fill="#e2202f"/>
<circle cx="488.3" cy="201.8" r="0.62" fill="#e2202f"/>
<circle cx="489.2" cy="192.9" r="0.62" fill="#e2202f"/>
<circle cx="485.9" cy="194.0" r="0.62" fill="#e2202f"/>
<circle cx="488.5" cy="185.5" r="0.62" fill="#e2202f"/>
<circle cx="488.1" cy="185.9" r="0.62" fill="#e2202f"/>
<circle cx="487.0" cy="200.6" r="0.62" fill="#e2202f"/>
<circle cx="484.6" cy="201.2" r="0.62" fill="#e2202f"/>
<circle cx="492.8" cy="213.7" r="0.62" fill="#e2202f"/>
<circle cx="488.2" cy="210.4" r="0.62" fill="#e2202f"/>
<circle cx="487.6" cy="185.4" r="0.62" fill="#e2202f"/>
<circle cx="488.8" cy="191.4" r="0.62" fill="#e2202f"/>
<circle cx="486.4" cy="189.7" r="0.62" fill="#e2202f"/>
<circle cx="484.1" cy="210.9" r="0.62" fill="#e2202f"/>
<circle cx="483.2" cy="200.7" r="0.62" fill="#e2202f"/>
<circle cx="483.8" cy="182.2" r="0.62" fill="#e2202f"/>
<circle cx="492.6" cy="216.5" r="0.62" fill="#e2202f"/>
<circle cx="485.1" cy="204.7" r="0.62" fill="#e2202f"/>
<circle cx="489.1" cy="205.2" r="0.62" fill="#e2202f"/>
<circle cx="486.9" cy="194.7" r="0.62" fill="#e2202f"/>
<circle cx="482.6" cy="209.9" r="0.62" fill="#e2202f"/>
<circle cx="485.6" cy="188.2" r="0.62" fill="#e2202f"/>
<circle cx="485.0" cy="186.1" r="0.62" fill="#e2202f"/>
<circle cx="483.9" cy="201.5" r="0.62" fill="#e2202f"/>
<circle cx="484.6" cy="199.7" r="0.62" fill="#e2202f"/>
<circle cx="485.2" cy="201.4" r="0.62" fill="#e2202f"/>
<circle cx="482.9" cy="204.1" r="0.62" fill="#e2202f"/>
<circle cx="483.7" cy="205.2" r="0.62" fill="#e2202f"/>
<circle cx="488.6" cy="215.5" r="0.62" fill="#e2202f"/>
<circle cx="485.7" cy="197.9" r="0.62" fill="#e2202f"/>
<circle cx="488.4" cy="203.5" r="0.62" fill="#e2202f"/>
<circle cx="489.5" cy="208.3" r="0.62" fill="#e2202f"/>
<circle cx="490.6" cy="198.5" r="0.62" fill="#e2202f"/>
<circle cx="490.9" cy="211.2" r="0.62" fill="#e2202f"/>
<circle cx="485.7" cy="195.7" r="0.62" fill="#e2202f"/>
<circle cx="490.2" cy="201.4" r="0.62" fill="#e2202f"/>
<circle cx="486.7" cy="199.9" r="0.62" fill="#e2202f"/>
<circle cx="489.5" cy="196.6" r="0.62" fill="#e2202f"/>
<circle cx="483.1" cy="192.5" r="0.62" fill="#e2202f"/>
<circle cx="490.9" cy="207.1" r="0.62" fill="#e2202f"/>
<circle cx="487.9" cy="207.4" r="0.62" fill="#e2202f"/>
<circle cx="485.1" cy="208.1" r="0.62" fill="#e2202f"/>
<circle cx="483.1" cy="202.4" r="0.62" fill="#e2202f"/>
<circle cx="485.3" cy="185.5" r="0.62" fill="#e2202f"/>
<circle cx="485.6" cy="199.1" r="0.62" fill="#e2202f"/>
<circle cx="486.5" cy="182.9" r="0.62" fill="#e2202f"/>
<circle cx="484.4" cy="199.9" r="0.62" fill="#e2202f"/>
<circle cx="485.3" cy="192.0" r="0.62" fill="#e2202f"/>
<circle cx="483.2" cy="189.5" r="0.62" fill="#e2202f"/>
<circle cx="492.5" cy="213.8" r="0.62" fill="#e2202f"/>
<circle cx="490.3" cy="205.0" r="0.62" fill="#e2202f"/>
<circle cx="488.7" cy="196.2" r="0.62" fill="#e2202f"/>
<circle cx="487.5" cy="189.0" r="0.62" fill="#e2202f"/>
<circle cx="490.2" cy="201.4" r="0.62" fill="#e2202f"/>
<circle cx="487.3" cy="184.5" r="0.62" fill="#e2202f"/>
<circle cx="485.8" cy="185.5" r="0.62" fill="#e2202f"/>
<circle cx="482.4" cy="215.2" r="0.62" fill="#e2202f"/>
<circle cx="484.6" cy="189.8" r="0.62" fill="#e2202f"/>
<circle cx="483.1" cy="192.7" r="0.62" fill="#e2202f"/>
<circle cx="490.7" cy="213.2" r="0.62" fill="#e2202f"/>
<circle cx="485.1" cy="195.3" r="0.62" fill="#e2202f"/>
<circle cx="482.9" cy="202.1" r="0.62" fill="#e2202f"/>
<circle cx="487.6" cy="182.1" r="0.62" fill="#e2202f"/>
<circle cx="486.0" cy="192.1" r="0.62" fill="#e2202f"/>
<circle cx="492.8" cy="214.6" r="0.62" fill="#e2202f"/>
<circle cx="484.1" cy="198.0" r="0.62" fill="#e2202f"/>
<circle cx="489.0" cy="191.6" r="0.62" fill="#e2202f"/>
<circle cx="484.2" cy="213.3" r="0.62" fill="#e2202f"/>
<circle cx="485.7" cy="211.2" r="0.62" fill="#e2202f"/>
<circle cx="483.8" cy="198.0" r="0.62" fill="#e2202f"/>
<circle cx="492.7" cy="212.7" r="0.62" fill="#e2202f"/>
<circle cx="496.0" cy="212.0" r="0.55" fill="#e6505a"/>
<circle cx="499.0" cy="214.0" r="0.55" fill="#e6505a"/>
<circle cx="502.0" cy="215.0" r="0.55" fill="#e6505a"/>
<circle cx="494.0" cy="205.0" r="0.55" fill="#e6505a"/>
<circle cx="498.0" cy="209.0" r="0.55" fill="#e6505a"/>
<circle cx="505.0" cy="216.0" r="0.55" fill="#e6505a"/>
<circle cx="493.0" cy="199.0" r="0.55" fill="#e6505a"/>
</g>
<line x1="427" y1="172" x2="427" y2="248.7" stroke="#1e1e1e" stroke-width="1.4"/>
<line x1="426.3" y1="248" x2="516.3" y2="248" stroke="#1e1e1e" stroke-width="1.4"/>
<line x1="424.2" y1="181.8" x2="426.9" y2="181.8" stroke="#1e1e1e" stroke-width="1"/>
<text x="421.3" y="184.70000000000002" font-size="8.2" text-anchor="end" font-weight="normal" fill="#231f20" style="stroke-width:0.3px">3</text>
<line x1="424.2" y1="203.0" x2="426.9" y2="203.0" stroke="#1e1e1e" stroke-width="1"/>
<text x="421.3" y="205.9" font-size="8.2" text-anchor="end" font-weight="normal" fill="#231f20" style="stroke-width:0.3px">2</text>
<line x1="424.2" y1="224.2" x2="426.9" y2="224.2" stroke="#1e1e1e" stroke-width="1"/>
<text x="421.3" y="227.10000000000002" font-size="8.2" text-anchor="end" font-weight="normal" fill="#231f20" style="stroke-width:0.3px">1</text>
<line x1="424.2" y1="245.4" x2="426.9" y2="245.4" stroke="#1e1e1e" stroke-width="1"/>
<text x="421.3" y="248.3" font-size="8.2" text-anchor="end" font-weight="normal" fill="#231f20" style="stroke-width:0.3px">0</text>
<line x1="431.6" y1="248.1" x2="431.6" y2="250.8" stroke="#1e1e1e" stroke-width="1"/>
<text x="431.59999999999997" y="260.8" font-size="8.1" text-anchor="middle" font-weight="normal" fill="#231f20" textLength="16.6" lengthAdjust="spacingAndGlyphs" style="stroke-width:0.25px">−5.0</text>
<line x1="451.8" y1="248.1" x2="451.8" y2="250.8" stroke="#1e1e1e" stroke-width="1"/>
<text x="451.75" y="260.8" font-size="8.1" text-anchor="middle" font-weight="normal" fill="#231f20" textLength="16.6" lengthAdjust="spacingAndGlyphs" style="stroke-width:0.25px">−2.5</text>
<line x1="471.9" y1="248.1" x2="471.9" y2="250.8" stroke="#1e1e1e" stroke-width="1"/>
<text x="471.9" y="260.8" font-size="8.1" text-anchor="middle" font-weight="normal" fill="#231f20" textLength="12.5" lengthAdjust="spacingAndGlyphs" style="stroke-width:0.25px">0.0</text>
<line x1="492.0" y1="248.1" x2="492.0" y2="250.8" stroke="#1e1e1e" stroke-width="1"/>
<text x="492.04999999999995" y="260.8" font-size="8.1" text-anchor="middle" font-weight="normal" fill="#231f20" textLength="12.5" lengthAdjust="spacingAndGlyphs" style="stroke-width:0.25px">2.5</text>
<line x1="512.2" y1="248.1" x2="512.2" y2="250.8" stroke="#1e1e1e" stroke-width="1"/>
<text x="512.1999999999999" y="260.8" font-size="8.1" text-anchor="middle" font-weight="normal" fill="#231f20" textLength="12.5" lengthAdjust="spacingAndGlyphs" style="stroke-width:0.25px">5.0</text>
<line x1="427.5" y1="217.3" x2="516" y2="217.3" stroke="#555" stroke-width="0.8" stroke-dasharray="2,1.6"/>
<line x1="459.8" y1="172" x2="459.8" y2="247.5" stroke="#777" stroke-width="0.7" stroke-dasharray="1.5,2"/>
<line x1="484.4" y1="172" x2="484.4" y2="247.5" stroke="#777" stroke-width="0.7" stroke-dasharray="1.5,2"/>
<text x="472.7" y="272.8" font-size="9" text-anchor="middle" font-weight="normal" fill="#231f20" textLength="63" lengthAdjust="spacingAndGlyphs" >Fold change (log<tspan font-size="6" dy="2">2</tspan><tspan dy="-2">)</tspan></text>
<text transform="translate(410,209.9) rotate(-90)" font-size="9" text-anchor="middle" fill="#231f20" textLength="71.5" lengthAdjust="spacingAndGlyphs">Significance (−log<tspan font-size="6" dy="2">10</tspan><tspan dy="-2">)</tspan></text>
<text x="497.9" y="187.3" font-size="6.6" text-anchor="start" font-weight="normal" fill="#231f20" textLength="20" lengthAdjust="spacingAndGlyphs" >cKIT-L</text>
<line x1="497.9" y1="191.6" x2="507.5" y2="189.3" stroke="#1e1e1e" stroke-width="0.7"/>
<text x="502.7" y="206" font-size="6.6" text-anchor="start" font-weight="normal" fill="#231f20" textLength="12" lengthAdjust="spacingAndGlyphs" >IL-7</text>
<line x1="503.5" y1="212.4" x2="506.6" y2="208.2" stroke="#1e1e1e" stroke-width="0.7"/>
<line x1="25.5" y1="309.8" x2="25.5" y2="400.0" stroke="#1e1e1e" stroke-width="1.1"/>
<line x1="25.0" y1="399.5" x2="125.5" y2="399.5" stroke="#1e1e1e" stroke-width="1.1"/>
<line x1="22.5" y1="399.5" x2="25.5" y2="399.5" stroke="#1e1e1e" stroke-width="1"/>
<text x="19.4" y="402.6" font-size="8.7" text-anchor="end" font-weight="normal" fill="#231f20" textLength="4.11" lengthAdjust="spacingAndGlyphs" style="stroke-width:0.15px">0</text>
<line x1="22.5" y1="359.5" x2="25.5" y2="359.5" stroke="#1e1e1e" stroke-width="1"/>
<text x="19.4" y="362.6" font-size="8.7" text-anchor="end" font-weight="normal" fill="#231f20" textLength="4.11" lengthAdjust="spacingAndGlyphs" style="stroke-width:0.15px">5</text>
<line x1="22.5" y1="318.5" x2="25.5" y2="318.5" stroke="#1e1e1e" stroke-width="1"/>
<text x="19.4" y="321.6" font-size="8.7" text-anchor="end" font-weight="normal" fill="#231f20" textLength="8.22" lengthAdjust="spacingAndGlyphs" style="stroke-width:0.15px">10</text>
<line x1="32.5" y1="378.5" x2="32.5" y2="380.75" stroke="#2b2b2b" stroke-width="1"/>
<line x1="29.45" y1="378.5" x2="35.55" y2="378.5" stroke="#2b2b2b" stroke-width="1.1"/>
<rect x="28.3" y="381.05" width="8.9" height="18.45" fill="#c8162f" stroke="#a31128" stroke-width="0.6"/>
<line x1="44.5" y1="332.5" x2="44.5" y2="337.5" stroke="#2b2b2b" stroke-width="1"/>
<line x1="41.45" y1="332.5" x2="47.55" y2="332.5" stroke="#2b2b2b" stroke-width="1.1"/>
<rect x="39.8" y="337.8" width="8.65" height="61.7" fill="#165488" stroke="#10426c" stroke-width="0.6"/>
<line x1="57.5" y1="376.5" x2="57.5" y2="379" stroke="#2b2b2b" stroke-width="1"/>
<line x1="54.45" y1="376.5" x2="60.55" y2="376.5" stroke="#2b2b2b" stroke-width="1.1"/>
<rect x="52.8" y="379.3" width="8.9" height="20.2" fill="#c8162f" stroke="#a31128" stroke-width="0.6"/>
<line x1="68.5" y1="341.5" x2="68.5" y2="346.75" stroke="#2b2b2b" stroke-width="1"/>
<line x1="65.45" y1="341.5" x2="71.55" y2="341.5" stroke="#2b2b2b" stroke-width="1.1"/>
<rect x="64.05" y="347.05" width="8.9" height="52.45" fill="#165488" stroke="#10426c" stroke-width="0.6"/>
<line x1="81.5" y1="377.5" x2="81.5" y2="379" stroke="#2b2b2b" stroke-width="1"/>
<line x1="78.45" y1="377.5" x2="84.55" y2="377.5" stroke="#2b2b2b" stroke-width="1.1"/>
<rect x="77.3" y="379.3" width="8.65" height="20.2" fill="#c8162f" stroke="#a31128" stroke-width="0.6"/>
<line x1="92.5" y1="346.5" x2="92.5" y2="350" stroke="#2b2b2b" stroke-width="1"/>
<line x1="89.45" y1="346.5" x2="95.55" y2="346.5" stroke="#2b2b2b" stroke-width="1.1"/>
<rect x="88.3" y="350.3" width="8.9" height="49.2" fill="#165488" stroke="#10426c" stroke-width="0.6"/>
<line x1="106.5" y1="384.5" x2="106.5" y2="385.5" stroke="#2b2b2b" stroke-width="1"/>
<line x1="103.45" y1="384.5" x2="109.55" y2="384.5" stroke="#2b2b2b" stroke-width="1.1"/>
<rect x="101.55" y="385.8" width="8.9" height="13.7" fill="#c8162f" stroke="#a31128" stroke-width="0.6"/>
<line x1="117.5" y1="338.5" x2="117.5" y2="345.5" stroke="#2b2b2b" stroke-width="1"/>
<line x1="114.45" y1="338.5" x2="120.55" y2="338.5" stroke="#2b2b2b" stroke-width="1.1"/>
<rect x="113.3" y="345.8" width="8.9" height="53.7" fill="#165488" stroke="#10426c" stroke-width="0.6"/>
<polyline points="32.5,329.25 32.5,325.5 44.5,325.5 44.5,329.25" fill="none" stroke="#1e1e1e" stroke-width="0.95"/>
<circle cx="36.25" cy="321.60" r="0.85" fill="#1e1e1e"/>
<path d="M36.25,320.15L36.25,323.05M34.99,320.88L37.51,322.33M37.51,320.88L34.99,322.33" stroke="#1e1e1e" stroke-width="0.75" stroke-linecap="round" fill="none"/>
<circle cx="40.75" cy="321.60" r="0.85" fill="#1e1e1e"/>
<path d="M40.75,320.15L40.75,323.05M39.49,320.88L42.01,322.33M42.01,320.88L39.49,322.33" stroke="#1e1e1e" stroke-width="0.75" stroke-linecap="round" fill="none"/>
<polyline points="57.5,337.5 57.5,334.5 68.5,334.5 68.5,337.5" fill="none" stroke="#1e1e1e" stroke-width="0.95"/>
<circle cx="60.75" cy="330.60" r="0.85" fill="#1e1e1e"/>
<path d="M60.75,329.15L60.75,332.05M59.49,329.88L62.01,331.33M62.01,329.88L59.49,331.33" stroke="#1e1e1e" stroke-width="0.75" stroke-linecap="round" fill="none"/>
<circle cx="65.25" cy="330.60" r="0.85" fill="#1e1e1e"/>
<path d="M65.25,329.15L65.25,332.05M63.99,329.88L66.51,331.33M66.51,329.88L63.99,331.33" stroke="#1e1e1e" stroke-width="0.75" stroke-linecap="round" fill="none"/>
<polyline points="81.5,343 81.5,339.5 92.5,339.5 92.5,343" fill="none" stroke="#1e1e1e" stroke-width="0.95"/>
<circle cx="84.75" cy="335.60" r="0.85" fill="#1e1e1e"/>
<path d="M84.75,334.15L84.75,337.05M83.49,334.88L86.01,336.33M86.01,334.88L83.49,336.33" stroke="#1e1e1e" stroke-width="0.75" stroke-linecap="round" fill="none"/>
<circle cx="89.25" cy="335.60" r="0.85" fill="#1e1e1e"/>
<path d="M89.25,334.15L89.25,337.05M87.99,334.88L90.51,336.33M90.51,334.88L87.99,336.33" stroke="#1e1e1e" stroke-width="0.75" stroke-linecap="round" fill="none"/>
<polyline points="105.5,335.5 105.5,331.5 117.5,331.5 117.5,335.5" fill="none" stroke="#1e1e1e" stroke-width="0.95"/>
<circle cx="109.25" cy="327.60" r="0.85" fill="#1e1e1e"/>
<path d="M109.25,326.15L109.25,329.05M107.99,326.88L110.51,328.33M110.51,326.88L107.99,328.33" stroke="#1e1e1e" stroke-width="0.75" stroke-linecap="round" fill="none"/>
<circle cx="113.75" cy="327.60" r="0.85" fill="#1e1e1e"/>
<path d="M113.75,326.15L113.75,329.05M112.49,326.88L115.01,328.33M115.01,326.88L112.49,328.33" stroke="#1e1e1e" stroke-width="0.75" stroke-linecap="round" fill="none"/>
<text x="75" y="302.3" font-size="8.3" text-anchor="middle" font-weight="normal" fill="#231f20" >IL-7</text>
<line x1="38.75" y1="399" x2="38.75" y2="401.8" stroke="#1e1e1e" stroke-width="1"/>
<text x="38.75" y="411.6" font-size="8.6" text-anchor="middle" font-weight="normal" fill="#231f20" textLength="4.06" lengthAdjust="spacingAndGlyphs" >1</text>
<line x1="63" y1="399" x2="63" y2="401.8" stroke="#1e1e1e" stroke-width="1"/>
<text x="63" y="411.6" font-size="8.6" text-anchor="middle" font-weight="normal" fill="#231f20" textLength="4.06" lengthAdjust="spacingAndGlyphs" >2</text>
<line x1="87" y1="399" x2="87" y2="401.8" stroke="#1e1e1e" stroke-width="1"/>
<text x="87" y="411.6" font-size="8.6" text-anchor="middle" font-weight="normal" fill="#231f20" textLength="4.06" lengthAdjust="spacingAndGlyphs" >3</text>
<line x1="111.25" y1="399" x2="111.25" y2="401.8" stroke="#1e1e1e" stroke-width="1"/>
<text x="111.25" y="411.6" font-size="8.6" text-anchor="middle" font-weight="normal" fill="#231f20" textLength="4.06" lengthAdjust="spacingAndGlyphs" >7</text>
<line x1="153.5" y1="309.8" x2="153.5" y2="400.0" stroke="#1e1e1e" stroke-width="1.1"/>
<line x1="153.0" y1="399.5" x2="253.3" y2="399.5" stroke="#1e1e1e" stroke-width="1.1"/>
<line x1="150.5" y1="399.5" x2="153.5" y2="399.5" stroke="#1e1e1e" stroke-width="1"/>
<line x1="150.5" y1="357.5" x2="153.5" y2="357.5" stroke="#1e1e1e" stroke-width="1"/>
<line x1="150.5" y1="316.5" x2="153.5" y2="316.5" stroke="#1e1e1e" stroke-width="1"/>
<line x1="161.5" y1="371.5" x2="161.5" y2="373.3" stroke="#2b2b2b" stroke-width="1"/>
<line x1="158.45" y1="371.5" x2="164.55" y2="371.5" stroke="#2b2b2b" stroke-width="1.1"/>
<rect x="156.60000000000002" y="373.6" width="8.9" height="25.899999999999988" fill="#c8162f" stroke="#a31128" stroke-width="0.6"/>
<line x1="172.5" y1="381.5" x2="172.5" y2="386" stroke="#2b2b2b" stroke-width="1"/>
<line x1="169.45" y1="381.5" x2="175.55" y2="381.5" stroke="#2b2b2b" stroke-width="1.1"/>
<rect x="168.20000000000002" y="386.3" width="8.599999999999989" height="13.2" fill="#165488" stroke="#10426c" stroke-width="0.6"/>
<line x1="185.5" y1="377.5" x2="185.5" y2="380.6" stroke="#2b2b2b" stroke-width="1"/>
<line x1="182.45" y1="377.5" x2="188.55" y2="377.5" stroke="#2b2b2b" stroke-width="1.1"/>
<rect x="180.9" y="380.90000000000003" width="8.800000000000006" height="18.599999999999977" fill="#c8162f" stroke="#a31128" stroke-width="0.6"/>
<line x1="196.5" y1="348.5" x2="196.5" y2="353.7" stroke="#2b2b2b" stroke-width="1"/>
<line x1="193.45" y1="348.5" x2="199.55" y2="348.5" stroke="#2b2b2b" stroke-width="1.1"/>
<rect x="192.5" y="354.0" width="8.800000000000006" height="45.500000000000014" fill="#165488" stroke="#10426c" stroke-width="0.6"/>
<line x1="209.5" y1="368.5" x2="209.5" y2="372.5" stroke="#2b2b2b" stroke-width="1"/>
<line x1="206.45" y1="368.5" x2="212.55" y2="368.5" stroke="#2b2b2b" stroke-width="1.1"/>
<rect x="205.70000000000002" y="372.8" width="8.199999999999983" height="26.7" fill="#c8162f" stroke="#a31128" stroke-width="0.6"/>
<line x1="221.5" y1="350.5" x2="221.5" y2="356.9" stroke="#2b2b2b" stroke-width="1"/>
<line x1="218.45" y1="350.5" x2="224.55" y2="350.5" stroke="#2b2b2b" stroke-width="1.1"/>
<rect x="216.70000000000002" y="357.2" width="8.800000000000006" height="42.300000000000026" fill="#165488" stroke="#10426c" stroke-width="0.6"/>
<rect x="230.20000000000002" y="393.0" width="8.499999999999995" height="6.5000000000000115" fill="#c8162f" stroke="#a31128" stroke-width="0.6"/>
<line x1="245.5" y1="364.5" x2="245.5" y2="369.8" stroke="#2b2b2b" stroke-width="1"/>
<line x1="242.45" y1="364.5" x2="248.55" y2="364.5" stroke="#2b2b2b" stroke-width="1.1"/>
<rect x="241.5" y="370.1" width="8.800000000000006" height="29.399999999999988" fill="#165488" stroke="#10426c" stroke-width="0.6"/>
<polyline points="185.5,344.8 185.5,341.5 197.5,341.5 197.5,344.8" fill="none" stroke="#1e1e1e" stroke-width="0.95"/>
<circle cx="189.25" cy="337.60" r="0.85" fill="#1e1e1e"/>
<path d="M189.25,336.15L189.25,339.05M187.99,336.88L190.51,338.33M190.51,336.88L187.99,338.33" stroke="#1e1e1e" stroke-width="0.75" stroke-linecap="round" fill="none"/>
<circle cx="193.75" cy="337.60" r="0.85" fill="#1e1e1e"/>
<path d="M193.75,336.15L193.75,339.05M192.49,336.88L195.01,338.33M195.01,336.88L192.49,338.33" stroke="#1e1e1e" stroke-width="0.75" stroke-linecap="round" fill="none"/>
<polyline points="209.5,346.2 209.5,342.5 221.5,342.5 221.5,346.2" fill="none" stroke="#1e1e1e" stroke-width="0.95"/>
<circle cx="213.25" cy="338.60" r="0.85" fill="#1e1e1e"/>
<path d="M213.25,337.15L213.25,340.05M211.99,337.88L214.51,339.33M214.51,337.88L211.99,339.33" stroke="#1e1e1e" stroke-width="0.75" stroke-linecap="round" fill="none"/>
<circle cx="217.75" cy="338.60" r="0.85" fill="#1e1e1e"/>
<path d="M217.75,337.15L217.75,340.05M216.49,337.88L219.01,339.33M219.01,337.88L216.49,339.33" stroke="#1e1e1e" stroke-width="0.75" stroke-linecap="round" fill="none"/>
<polyline points="233.5,361 233.5,357.5 246.5,357.5 246.5,361" fill="none" stroke="#1e1e1e" stroke-width="0.95"/>
<circle cx="237.75" cy="353.60" r="0.85" fill="#1e1e1e"/>
<path d="M237.75,352.15L237.75,355.05M236.49,352.88L239.01,354.33M239.01,352.88L236.49,354.33" stroke="#1e1e1e" stroke-width="0.75" stroke-linecap="round" fill="none"/>
<circle cx="242.25" cy="353.60" r="0.85" fill="#1e1e1e"/>
<path d="M242.25,352.15L242.25,355.05M240.99,352.88L243.51,354.33M243.51,352.88L240.99,354.33" stroke="#1e1e1e" stroke-width="0.75" stroke-linecap="round" fill="none"/>
<text x="203.5" y="302.3" font-size="8.3" text-anchor="middle" font-weight="normal" fill="#231f20" >cKIT-L</text>
<line x1="166.3" y1="399" x2="166.3" y2="401.8" stroke="#1e1e1e" stroke-width="1"/>
<text x="166.3" y="411.6" font-size="8.6" text-anchor="middle" font-weight="normal" fill="#231f20" textLength="4.06" lengthAdjust="spacingAndGlyphs" >1</text>
<line x1="190.8" y1="399" x2="190.8" y2="401.8" stroke="#1e1e1e" stroke-width="1"/>
<text x="190.8" y="411.6" font-size="8.6" text-anchor="middle" font-weight="normal" fill="#231f20" textLength="4.06" lengthAdjust="spacingAndGlyphs" >2</text>
<line x1="215.6" y1="399" x2="215.6" y2="401.8" stroke="#1e1e1e" stroke-width="1"/>
<text x="215.6" y="411.6" font-size="8.6" text-anchor="middle" font-weight="normal" fill="#231f20" textLength="4.06" lengthAdjust="spacingAndGlyphs" >3</text>
<line x1="240.4" y1="399" x2="240.4" y2="401.8" stroke="#1e1e1e" stroke-width="1"/>
<text x="240.4" y="411.6" font-size="8.6" text-anchor="middle" font-weight="normal" fill="#231f20" textLength="4.06" lengthAdjust="spacingAndGlyphs" >7</text>
<line x1="291.5" y1="309.8" x2="291.5" y2="400.0" stroke="#1e1e1e" stroke-width="1.1"/>
<line x1="291.0" y1="399.5" x2="391" y2="399.5" stroke="#1e1e1e" stroke-width="1.1"/>
<line x1="288.5" y1="399.5" x2="291.5" y2="399.5" stroke="#1e1e1e" stroke-width="1"/>
<line x1="288.5" y1="358.5" x2="291.5" y2="358.5" stroke="#1e1e1e" stroke-width="1"/>
<line x1="288.5" y1="317.5" x2="291.5" y2="317.5" stroke="#1e1e1e" stroke-width="1"/>
<line x1="299.5" y1="363.5" x2="299.5" y2="367.1" stroke="#2b2b2b" stroke-width="1"/>
<line x1="296.45" y1="363.5" x2="302.55" y2="363.5" stroke="#2b2b2b" stroke-width="1.1"/>
<rect x="295.1" y="367.40000000000003" width="8.599999999999989" height="32.09999999999998" fill="#c8162f" stroke="#a31128" stroke-width="0.6"/>
<line x1="310.5" y1="337.5" x2="310.5" y2="339.4" stroke="#2b2b2b" stroke-width="1"/>
<line x1="307.45" y1="337.5" x2="313.55" y2="337.5" stroke="#2b2b2b" stroke-width="1.1"/>
<rect x="306.5" y="339.7" width="8.800000000000034" height="59.800000000000026" fill="#165488" stroke="#10426c" stroke-width="0.6"/>
<line x1="323.5" y1="376.5" x2="323.5" y2="378.4" stroke="#2b2b2b" stroke-width="1"/>
<line x1="320.45" y1="376.5" x2="326.55" y2="376.5" stroke="#2b2b2b" stroke-width="1.1"/>
<rect x="319.40000000000003" y="378.7" width="8.799999999999978" height="20.800000000000022" fill="#c8162f" stroke="#a31128" stroke-width="0.6"/>
<line x1="335.5" y1="317.5" x2="335.5" y2="327.3" stroke="#2b2b2b" stroke-width="1"/>
<line x1="332.45" y1="317.5" x2="338.55" y2="317.5" stroke="#2b2b2b" stroke-width="1.1"/>
<rect x="330.7" y="327.6" width="8.800000000000034" height="71.89999999999999" fill="#165488" stroke="#10426c" stroke-width="0.6"/>
<line x1="348.5" y1="368.5" x2="348.5" y2="372" stroke="#2b2b2b" stroke-width="1"/>
<line x1="345.45" y1="368.5" x2="351.55" y2="368.5" stroke="#2b2b2b" stroke-width="1.1"/>
<rect x="344.2" y="372.3" width="8.500000000000023" height="27.2" fill="#c8162f" stroke="#a31128" stroke-width="0.6"/>
<line x1="359.5" y1="329.5" x2="359.5" y2="335.3" stroke="#2b2b2b" stroke-width="1"/>
<line x1="356.45" y1="329.5" x2="362.55" y2="329.5" stroke="#2b2b2b" stroke-width="1.1"/>
<rect x="355.5" y="335.6" width="8.800000000000034" height="63.89999999999999" fill="#165488" stroke="#10426c" stroke-width="0.6"/>
<line x1="372.5" y1="384.5" x2="372.5" y2="385.4" stroke="#2b2b2b" stroke-width="1"/>
<line x1="369.45" y1="384.5" x2="375.55" y2="384.5" stroke="#2b2b2b" stroke-width="1.1"/>
<rect x="368.40000000000003" y="385.7" width="8.799999999999978" height="13.800000000000022" fill="#c8162f" stroke="#a31128" stroke-width="0.6"/>
<line x1="384.5" y1="366.5" x2="384.5" y2="367.7" stroke="#2b2b2b" stroke-width="1"/>
<line x1="381.45" y1="366.5" x2="387.55" y2="366.5" stroke="#2b2b2b" stroke-width="1.1"/>
<rect x="379.7" y="368.0" width="8.800000000000034" height="31.50000000000001" fill="#165488" stroke="#10426c" stroke-width="0.6"/>
<polyline points="299.5,334.6 299.5,331.5 311.5,331.5 311.5,334.6" fill="none" stroke="#1e1e1e" stroke-width="0.95"/>
<circle cx="305.50" cy="327.60" r="0.85" fill="#1e1e1e"/>
<path d="M305.50,326.15L305.50,329.05M304.24,326.88L306.76,328.33M306.76,326.88L304.24,328.33" stroke="#1e1e1e" stroke-width="0.75" stroke-linecap="round" fill="none"/>
<polyline points="323.5,314.7 323.5,311.5 335.5,311.5 335.5,314.7" fill="none" stroke="#1e1e1e" stroke-width="0.95"/>
<circle cx="327.25" cy="307.60" r="0.85" fill="#1e1e1e"/>
<path d="M327.25,306.15L327.25,309.05M325.99,306.88L328.51,308.33M328.51,306.88L325.99,308.33" stroke="#1e1e1e" stroke-width="0.75" stroke-linecap="round" fill="none"/>
<circle cx="331.75" cy="307.60" r="0.85" fill="#1e1e1e"/>
<path d="M331.75,306.15L331.75,309.05M330.49,306.88L333.01,308.33M333.01,306.88L330.49,308.33" stroke="#1e1e1e" stroke-width="0.75" stroke-linecap="round" fill="none"/>
<polyline points="348.5,326 348.5,322.5 360.5,322.5 360.5,326" fill="none" stroke="#1e1e1e" stroke-width="0.95"/>
<circle cx="352.25" cy="318.60" r="0.85" fill="#1e1e1e"/>
<path d="M352.25,317.15L352.25,320.05M350.99,317.88L353.51,319.33M353.51,317.88L350.99,319.33" stroke="#1e1e1e" stroke-width="0.75" stroke-linecap="round" fill="none"/>
<circle cx="356.75" cy="318.60" r="0.85" fill="#1e1e1e"/>
<path d="M356.75,317.15L356.75,320.05M355.49,317.88L358.01,319.33M358.01,317.88L355.49,319.33" stroke="#1e1e1e" stroke-width="0.75" stroke-linecap="round" fill="none"/>
<polyline points="372.5,363.7 372.5,360.5 384.5,360.5 384.5,363.7" fill="none" stroke="#1e1e1e" stroke-width="0.95"/>
<circle cx="376.25" cy="356.60" r="0.85" fill="#1e1e1e"/>
<path d="M376.25,355.15L376.25,358.05M374.99,355.88L377.51,357.33M377.51,355.88L374.99,357.33" stroke="#1e1e1e" stroke-width="0.75" stroke-linecap="round" fill="none"/>
<circle cx="380.75" cy="356.60" r="0.85" fill="#1e1e1e"/>
<path d="M380.75,355.15L380.75,358.05M379.49,355.88L382.01,357.33M382.01,355.88L379.49,357.33" stroke="#1e1e1e" stroke-width="0.75" stroke-linecap="round" fill="none"/>
<text x="341.2" y="302.3" font-size="8.3" text-anchor="middle" font-weight="normal" fill="#231f20" >IL-7</text>
<line x1="304.8" y1="399" x2="304.8" y2="401.8" stroke="#1e1e1e" stroke-width="1"/>
<text x="304.8" y="411.6" font-size="8.6" text-anchor="middle" font-weight="normal" fill="#231f20" textLength="4.06" lengthAdjust="spacingAndGlyphs" >1</text>
<line x1="329" y1="399" x2="329" y2="401.8" stroke="#1e1e1e" stroke-width="1"/>
<text x="329" y="411.6" font-size="8.6" text-anchor="middle" font-weight="normal" fill="#231f20" textLength="4.06" lengthAdjust="spacingAndGlyphs" >2</text>
<line x1="354.1" y1="399" x2="354.1" y2="401.8" stroke="#1e1e1e" stroke-width="1"/>
<text x="354.1" y="411.6" font-size="8.6" text-anchor="middle" font-weight="normal" fill="#231f20" textLength="4.06" lengthAdjust="spacingAndGlyphs" >3</text>
<line x1="378.3" y1="399" x2="378.3" y2="401.8" stroke="#1e1e1e" stroke-width="1"/>
<text x="378.3" y="411.6" font-size="8.6" text-anchor="middle" font-weight="normal" fill="#231f20" textLength="4.06" lengthAdjust="spacingAndGlyphs" >7</text>
<line x1="416.5" y1="309.8" x2="416.5" y2="400.0" stroke="#1e1e1e" stroke-width="1.1"/>
<line x1="416.0" y1="399.5" x2="517.3" y2="399.5" stroke="#1e1e1e" stroke-width="1.1"/>
<line x1="413.5" y1="399.5" x2="416.5" y2="399.5" stroke="#1e1e1e" stroke-width="1"/>
<line x1="413.5" y1="358.5" x2="416.5" y2="358.5" stroke="#1e1e1e" stroke-width="1"/>
<line x1="413.5" y1="318.5" x2="416.5" y2="318.5" stroke="#1e1e1e" stroke-width="1"/>
<line x1="427.5" y1="378.5" x2="427.5" y2="381.9" stroke="#2b2b2b" stroke-width="1"/>
<line x1="424.45" y1="378.5" x2="430.55" y2="378.5" stroke="#2b2b2b" stroke-width="1.1"/>
<rect x="422.90000000000003" y="382.2" width="9.099999999999989" height="17.300000000000022" fill="#c8162f" stroke="#a31128" stroke-width="0.6"/>
<line x1="439.5" y1="342.5" x2="439.5" y2="346.8" stroke="#2b2b2b" stroke-width="1"/>
<line x1="436.45" y1="342.5" x2="442.55" y2="342.5" stroke="#2b2b2b" stroke-width="1.1"/>
<rect x="434.5" y="347.1" width="9.000000000000023" height="52.39999999999999" fill="#165488" stroke="#10426c" stroke-width="0.6"/>
<line x1="451.5" y1="381.5" x2="451.5" y2="383.8" stroke="#2b2b2b" stroke-width="1"/>
<line x1="448.45" y1="381.5" x2="454.55" y2="381.5" stroke="#2b2b2b" stroke-width="1.1"/>
<rect x="447.6" y="384.1" width="8.599999999999989" height="15.399999999999988" fill="#c8162f" stroke="#a31128" stroke-width="0.6"/>
<line x1="463.5" y1="351.5" x2="463.5" y2="357" stroke="#2b2b2b" stroke-width="1"/>
<line x1="460.45" y1="351.5" x2="466.55" y2="351.5" stroke="#2b2b2b" stroke-width="1.1"/>
<rect x="458.7" y="357.3" width="9.100000000000046" height="42.2" fill="#165488" stroke="#10426c" stroke-width="0.6"/>
<line x1="476.5" y1="378.5" x2="476.5" y2="381.9" stroke="#2b2b2b" stroke-width="1"/>
<line x1="473.45" y1="378.5" x2="479.55" y2="378.5" stroke="#2b2b2b" stroke-width="1.1"/>
<rect x="471.8" y="382.2" width="8.700000000000012" height="17.300000000000022" fill="#c8162f" stroke="#a31128" stroke-width="0.6"/>
<line x1="487.5" y1="346.5" x2="487.5" y2="350.1" stroke="#2b2b2b" stroke-width="1"/>
<line x1="484.45" y1="346.5" x2="490.55" y2="346.5" stroke="#2b2b2b" stroke-width="1.1"/>
<rect x="482.90000000000003" y="350.40000000000003" width="9.099999999999989" height="49.09999999999998" fill="#165488" stroke="#10426c" stroke-width="0.6"/>
<line x1="500.5" y1="388.5" x2="500.5" y2="389.3" stroke="#2b2b2b" stroke-width="1"/>
<line x1="497.45" y1="388.5" x2="503.55" y2="388.5" stroke="#2b2b2b" stroke-width="1.1"/>
<rect x="496.1" y="389.6" width="9.099999999999989" height="9.899999999999988" fill="#c8162f" stroke="#a31128" stroke-width="0.6"/>
<line x1="512.5" y1="367.5" x2="512.5" y2="372.7" stroke="#2b2b2b" stroke-width="1"/>
<line x1="509.45" y1="367.5" x2="515.55" y2="367.5" stroke="#2b2b2b" stroke-width="1.1"/>
<rect x="507.6" y="373.0" width="9.099999999999989" height="26.50000000000001" fill="#165488" stroke="#10426c" stroke-width="0.6"/>
<polyline points="427.5,338 427.5,334.5 439.5,334.5 439.5,338" fill="none" stroke="#1e1e1e" stroke-width="0.95"/>
<circle cx="431.25" cy="330.60" r="0.85" fill="#1e1e1e"/>
<path d="M431.25,329.15L431.25,332.05M429.99,329.88L432.51,331.33M432.51,329.88L429.99,331.33" stroke="#1e1e1e" stroke-width="0.75" stroke-linecap="round" fill="none"/>
<circle cx="435.75" cy="330.60" r="0.85" fill="#1e1e1e"/>
<path d="M435.75,329.15L435.75,332.05M434.49,329.88L437.01,331.33M437.01,329.88L434.49,331.33" stroke="#1e1e1e" stroke-width="0.75" stroke-linecap="round" fill="none"/>
<polyline points="451.5,347 451.5,343.5 464.5,343.5 464.5,347" fill="none" stroke="#1e1e1e" stroke-width="0.95"/>
<circle cx="455.75" cy="339.60" r="0.85" fill="#1e1e1e"/>
<path d="M455.75,338.15L455.75,341.05M454.49,338.88L457.01,340.33M457.01,338.88L454.49,340.33" stroke="#1e1e1e" stroke-width="0.75" stroke-linecap="round" fill="none"/>
<circle cx="460.25" cy="339.60" r="0.85" fill="#1e1e1e"/>
<path d="M460.25,338.15L460.25,341.05M458.99,338.88L461.51,340.33M461.51,338.88L458.99,340.33" stroke="#1e1e1e" stroke-width="0.75" stroke-linecap="round" fill="none"/>
<polyline points="476.5,341 476.5,337.5 488.5,337.5 488.5,341" fill="none" stroke="#1e1e1e" stroke-width="0.95"/>
<circle cx="480.25" cy="333.60" r="0.85" fill="#1e1e1e"/>
<path d="M480.25,332.15L480.25,335.05M478.99,332.88L481.51,334.33M481.51,332.88L478.99,334.33" stroke="#1e1e1e" stroke-width="0.75" stroke-linecap="round" fill="none"/>
<circle cx="484.75" cy="333.60" r="0.85" fill="#1e1e1e"/>
<path d="M484.75,332.15L484.75,335.05M483.49,332.88L486.01,334.33M486.01,332.88L483.49,334.33" stroke="#1e1e1e" stroke-width="0.75" stroke-linecap="round" fill="none"/>
<polyline points="500.5,362.3 500.5,359.5 512.5,359.5 512.5,362.3" fill="none" stroke="#1e1e1e" stroke-width="0.95"/>
<circle cx="506.50" cy="355.60" r="0.85" fill="#1e1e1e"/>
<path d="M506.50,354.15L506.50,357.05M505.24,354.88L507.76,356.33M507.76,354.88L505.24,356.33" stroke="#1e1e1e" stroke-width="0.75" stroke-linecap="round" fill="none"/>
<text x="470.2" y="302.3" font-size="8.3" text-anchor="middle" font-weight="normal" fill="#231f20" >cKIT-L</text>
<line x1="433" y1="399" x2="433" y2="401.8" stroke="#1e1e1e" stroke-width="1"/>
<text x="433" y="411.6" font-size="8.6" text-anchor="middle" font-weight="normal" fill="#231f20" textLength="4.06" lengthAdjust="spacingAndGlyphs" >1</text>
<line x1="457.7" y1="399" x2="457.7" y2="401.8" stroke="#1e1e1e" stroke-width="1"/>
<text x="457.7" y="411.6" font-size="8.6" text-anchor="middle" font-weight="normal" fill="#231f20" textLength="4.06" lengthAdjust="spacingAndGlyphs" >2</text>
<line x1="481.9" y1="399" x2="481.9" y2="401.8" stroke="#1e1e1e" stroke-width="1"/>
<text x="481.9" y="411.6" font-size="8.6" text-anchor="middle" font-weight="normal" fill="#231f20" textLength="4.06" lengthAdjust="spacingAndGlyphs" >3</text>
<line x1="506.6" y1="399" x2="506.6" y2="401.8" stroke="#1e1e1e" stroke-width="1"/>
<text x="506.6" y="411.6" font-size="8.6" text-anchor="middle" font-weight="normal" fill="#231f20" textLength="4.06" lengthAdjust="spacingAndGlyphs" >7</text>
<text x="0.3" y="411.6" font-size="8.4" text-anchor="start" font-weight="normal" fill="#231f20" textLength="18" lengthAdjust="spacingAndGlyphs" >Days</text>
<line x1="25" y1="414.8" x2="253.8" y2="414.8" stroke="#1e1e1e" stroke-width="1"/>
<line x1="288.7" y1="414.8" x2="517.3" y2="414.8" stroke="#1e1e1e" stroke-width="1"/>
<text x="140" y="426.6" font-size="8.4" text-anchor="middle" font-weight="normal" fill="#231f20" textLength="47.5" lengthAdjust="spacingAndGlyphs" >Bone marrow</text>
<text x="405.6" y="426.6" font-size="8.4" text-anchor="middle" font-weight="normal" fill="#231f20" textLength="25.6" lengthAdjust="spacingAndGlyphs" >Thymus</text>
<text transform="translate(7.9,352) rotate(-90)" font-size="8.4" text-anchor="middle" fill="#231f20" textLength="60.4" lengthAdjust="spacingAndGlyphs">Relative expression</text>
<rect x="207.5" y="435.1" width="6" height="6" fill="#c8162f"/>
<rect x="265" y="435.1" width="6" height="6" fill="#165488"/>
<text x="216.9" y="441.2" font-size="7.3" fill="#231f20">TBI + NK<tspan font-size="4.53" dy="-2.77">syn</tspan><tspan dy="2.77"></tspan></text>
<text x="273.5" y="441.2" font-size="7.3" fill="#231f20">TBI + NK<tspan font-size="4.53" dy="-2.77">allo</tspan><tspan dy="2.77"></tspan></text>
<line x1="27.5" y1="475.3" x2="27.5" y2="568.0" stroke="#1e1e1e" stroke-width="1.1"/>
<line x1="27.0" y1="567.5" x2="58.4" y2="567.5" stroke="#1e1e1e" stroke-width="1.1"/>
<line x1="24.5" y1="567.5" x2="27.5" y2="567.5" stroke="#1e1e1e" stroke-width="1"/>
<text x="21.4" y="570.6" font-size="8.7" text-anchor="end" font-weight="normal" fill="#231f20" textLength="4.11" lengthAdjust="spacingAndGlyphs" style="stroke-width:0.15px">0</text>
<line x1="24.5" y1="479.5" x2="27.5" y2="479.5" stroke="#1e1e1e" stroke-width="1"/>
<text x="21.4" y="482.6" font-size="8.7" text-anchor="end" font-weight="normal" fill="#231f20" textLength="8.22" lengthAdjust="spacingAndGlyphs" style="stroke-width:0.15px">10</text>
<line x1="36.5" y1="501.5" x2="36.5" y2="505.4" stroke="#2b2b2b" stroke-width="1"/>
<line x1="33.45" y1="501.5" x2="39.55" y2="501.5" stroke="#2b2b2b" stroke-width="1.1"/>
<rect x="32.1" y="505.7" width="8.800000000000002" height="61.800000000000026" fill="#c8162f" stroke="#a31128" stroke-width="0.6"/>
<line x1="51.5" y1="535.5" x2="51.5" y2="542.4" stroke="#2b2b2b" stroke-width="1"/>
<line x1="48.45" y1="535.5" x2="54.55" y2="535.5" stroke="#2b2b2b" stroke-width="1.1"/>
<rect x="46.5" y="542.6999999999999" width="9.099999999999996" height="24.800000000000022" fill="#165488" stroke="#10426c" stroke-width="0.6"/>
<polyline points="35.5,497.3 35.5,493.5 49.5,493.5 49.5,497.3" fill="none" stroke="#1e1e1e" stroke-width="0.95"/>
<circle cx="40.25" cy="489.60" r="0.85" fill="#1e1e1e"/>
<path d="M40.25,488.15L40.25,491.05M38.99,488.88L41.51,490.33M41.51,488.88L38.99,490.33" stroke="#1e1e1e" stroke-width="0.75" stroke-linecap="round" fill="none"/>
<circle cx="44.75" cy="489.60" r="0.85" fill="#1e1e1e"/>
<path d="M44.75,488.15L44.75,491.05M43.49,488.88L46.01,490.33M46.01,488.88L43.49,490.33" stroke="#1e1e1e" stroke-width="0.75" stroke-linecap="round" fill="none"/>
<text x="43.8" y="468.1" font-size="8.3" text-anchor="middle" font-weight="normal" fill="#231f20" textLength="44.7" lengthAdjust="spacingAndGlyphs" >B cells (BM)</text>
<line x1="111.5" y1="475.3" x2="111.5" y2="568.0" stroke="#1e1e1e" stroke-width="1.1"/>
<line x1="111.0" y1="567.5" x2="141.6" y2="567.5" stroke="#1e1e1e" stroke-width="1.1"/>
<line x1="108.5" y1="567.5" x2="111.5" y2="567.5" stroke="#1e1e1e" stroke-width="1"/>
<text x="105.4" y="570.6" font-size="8.7" text-anchor="end" font-weight="normal" fill="#231f20" textLength="4.11" lengthAdjust="spacingAndGlyphs" style="stroke-width:0.15px">0</text>
<line x1="108.5" y1="480.5" x2="111.5" y2="480.5" stroke="#1e1e1e" stroke-width="1"/>
<text x="105.4" y="483.6" font-size="8.7" text-anchor="end" font-weight="normal" fill="#231f20" textLength="4.11" lengthAdjust="spacingAndGlyphs" style="stroke-width:0.15px">1</text>
<line x1="118.5" y1="510.5" x2="118.5" y2="523" stroke="#2b2b2b" stroke-width="1"/>
<line x1="115.45" y1="510.5" x2="121.55" y2="510.5" stroke="#2b2b2b" stroke-width="1.1"/>
<rect x="114.39999999999999" y="523.3" width="9.000000000000009" height="44.2" fill="#c8162f" stroke="#a31128" stroke-width="0.6"/>
<line x1="132.5" y1="543.5" x2="132.5" y2="548.4" stroke="#2b2b2b" stroke-width="1"/>
<line x1="129.45" y1="543.5" x2="135.55" y2="543.5" stroke="#2b2b2b" stroke-width="1.1"/>
<rect x="128.5" y="548.6999999999999" width="8.9" height="18.800000000000022" fill="#165488" stroke="#10426c" stroke-width="0.6"/>
<polyline points="117.5,505.8 117.5,501.5 132.5,501.5 132.5,505.8" fill="none" stroke="#1e1e1e" stroke-width="0.95"/>
<circle cx="122.75" cy="497.60" r="0.85" fill="#1e1e1e"/>
<path d="M122.75,496.15L122.75,499.05M121.49,496.88L124.01,498.33M124.01,496.88L121.49,498.33" stroke="#1e1e1e" stroke-width="0.75" stroke-linecap="round" fill="none"/>
<circle cx="127.25" cy="497.60" r="0.85" fill="#1e1e1e"/>
<path d="M127.25,496.15L127.25,499.05M125.99,496.88L128.51,498.33M128.51,496.88L125.99,498.33" stroke="#1e1e1e" stroke-width="0.75" stroke-linecap="round" fill="none"/>
<text x="125.6" y="468.1" font-size="8.3" text-anchor="middle" font-weight="normal" fill="#231f20" textLength="36.9" lengthAdjust="spacingAndGlyphs" >DCs (BM)</text>
<line x1="200.5" y1="475.3" x2="200.5" y2="568.0" stroke="#1e1e1e" stroke-width="1.1"/>
<line x1="200.0" y1="567.5" x2="231.6" y2="567.5" stroke="#1e1e1e" stroke-width="1.1"/>
<line x1="197.5" y1="567.5" x2="200.5" y2="567.5" stroke="#1e1e1e" stroke-width="1"/>
<text x="194.4" y="570.6" font-size="8.7" text-anchor="end" font-weight="normal" fill="#231f20" textLength="4.11" lengthAdjust="spacingAndGlyphs" style="stroke-width:0.15px">0</text>
<line x1="197.5" y1="478.5" x2="200.5" y2="478.5" stroke="#1e1e1e" stroke-width="1"/>
<text x="194.4" y="481.6" font-size="8.7" text-anchor="end" font-weight="normal" fill="#231f20" textLength="8.22" lengthAdjust="spacingAndGlyphs" style="stroke-width:0.15px">40</text>
<line x1="208.5" y1="488.5" x2="208.5" y2="501.6" stroke="#2b2b2b" stroke-width="1"/>
<line x1="205.45" y1="488.5" x2="211.55" y2="488.5" stroke="#2b2b2b" stroke-width="1.1"/>
<rect x="204.4" y="501.90000000000003" width="8.999999999999995" height="65.59999999999998" fill="#c8162f" stroke="#a31128" stroke-width="0.6"/>
<line x1="222.5" y1="546.5" x2="222.5" y2="553.5" stroke="#2b2b2b" stroke-width="1"/>
<line x1="219.45" y1="546.5" x2="225.55" y2="546.5" stroke="#2b2b2b" stroke-width="1.1"/>
<rect x="218.5" y="553.8" width="8.9" height="13.7" fill="#165488" stroke="#10426c" stroke-width="0.6"/>
<polyline points="207.5,484 207.5,480.5 221.5,480.5 221.5,484" fill="none" stroke="#1e1e1e" stroke-width="0.95"/>
<circle cx="212.25" cy="476.60" r="0.85" fill="#1e1e1e"/>
<path d="M212.25,475.15L212.25,478.05M210.99,475.88L213.51,477.33M213.51,475.88L210.99,477.33" stroke="#1e1e1e" stroke-width="0.75" stroke-linecap="round" fill="none"/>
<circle cx="216.75" cy="476.60" r="0.85" fill="#1e1e1e"/>
<path d="M216.75,475.15L216.75,478.05M215.49,475.88L218.01,477.33M218.01,475.88L215.49,477.33" stroke="#1e1e1e" stroke-width="0.75" stroke-linecap="round" fill="none"/>
<text x="216.2" y="468.1" font-size="8.3" text-anchor="middle" font-weight="normal" fill="#231f20" textLength="45.8" lengthAdjust="spacingAndGlyphs" >Thymocytes</text>
<line x1="288.5" y1="475.3" x2="288.5" y2="568.0" stroke="#1e1e1e" stroke-width="1.1"/>
<line x1="288.0" y1="567.5" x2="319.4" y2="567.5" stroke="#1e1e1e" stroke-width="1.1"/>
<line x1="285.5" y1="567.5" x2="288.5" y2="567.5" stroke="#1e1e1e" stroke-width="1"/>
<text x="282.4" y="570.6" font-size="8.7" text-anchor="end" font-weight="normal" fill="#231f20" textLength="4.11" lengthAdjust="spacingAndGlyphs" style="stroke-width:0.15px">0</text>
<line x1="285.5" y1="479.5" x2="288.5" y2="479.5" stroke="#1e1e1e" stroke-width="1"/>
<text x="282.4" y="482.6" font-size="8.7" text-anchor="end" font-weight="normal" fill="#231f20" textLength="8.22" lengthAdjust="spacingAndGlyphs" style="stroke-width:0.15px">10</text>
<line x1="296.5" y1="521.5" x2="296.5" y2="532.3" stroke="#2b2b2b" stroke-width="1"/>
<line x1="293.45" y1="521.5" x2="299.55" y2="521.5" stroke="#2b2b2b" stroke-width="1.1"/>
<rect x="292.40000000000003" y="532.5999999999999" width="9.099999999999989" height="34.90000000000005" fill="#c8162f" stroke="#a31128" stroke-width="0.6"/>
<line x1="310.5" y1="551.5" x2="310.5" y2="557" stroke="#2b2b2b" stroke-width="1"/>
<line x1="307.45" y1="551.5" x2="313.55" y2="551.5" stroke="#2b2b2b" stroke-width="1.1"/>
<rect x="306.40000000000003" y="557.3" width="9.099999999999989" height="10.2" fill="#165488" stroke="#10426c" stroke-width="0.6"/>
<polyline points="295.5,518.7 295.5,514.5 310.5,514.5 310.5,518.7" fill="none" stroke="#1e1e1e" stroke-width="0.95"/>
<circle cx="300.75" cy="510.60" r="0.85" fill="#1e1e1e"/>
<path d="M300.75,509.15L300.75,512.05M299.49,509.88L302.01,511.33M302.01,509.88L299.49,511.33" stroke="#1e1e1e" stroke-width="0.75" stroke-linecap="round" fill="none"/>
<circle cx="305.25" cy="510.60" r="0.85" fill="#1e1e1e"/>
<path d="M305.25,509.15L305.25,512.05M303.99,509.88L306.51,511.33M306.51,509.88L303.99,511.33" stroke="#1e1e1e" stroke-width="0.75" stroke-linecap="round" fill="none"/>
<text x="304" y="468.1" font-size="8.3" text-anchor="middle" font-weight="normal" fill="#231f20" textLength="57.3" lengthAdjust="spacingAndGlyphs" >B cells (spleen)</text>
<line x1="377.5" y1="475.3" x2="377.5" y2="568.0" stroke="#1e1e1e" stroke-width="1.1"/>
<line x1="377.0" y1="567.5" x2="407.7" y2="567.5" stroke="#1e1e1e" stroke-width="1.1"/>
<line x1="374.5" y1="567.5" x2="377.5" y2="567.5" stroke="#1e1e1e" stroke-width="1"/>
<text x="371.4" y="570.6" font-size="8.7" text-anchor="end" font-weight="normal" fill="#231f20" textLength="4.11" lengthAdjust="spacingAndGlyphs" style="stroke-width:0.15px">0</text>
<line x1="374.5" y1="480.5" x2="377.5" y2="480.5" stroke="#1e1e1e" stroke-width="1"/>
<text x="371.4" y="483.6" font-size="8.7" text-anchor="end" font-weight="normal" fill="#231f20" textLength="4.11" lengthAdjust="spacingAndGlyphs" style="stroke-width:0.15px">1</text>
<line x1="385.5" y1="507.5" x2="385.5" y2="520.2" stroke="#2b2b2b" stroke-width="1"/>
<line x1="382.45" y1="507.5" x2="388.55" y2="507.5" stroke="#2b2b2b" stroke-width="1.1"/>
<rect x="381.1" y="520.5" width="9.099999999999989" height="46.99999999999996" fill="#c8162f" stroke="#a31128" stroke-width="0.6"/>
<line x1="399.5" y1="544.5" x2="399.5" y2="548.4" stroke="#2b2b2b" stroke-width="1"/>
<line x1="396.45" y1="544.5" x2="402.55" y2="544.5" stroke="#2b2b2b" stroke-width="1.1"/>
<rect x="395.3" y="548.6999999999999" width="9.099999999999989" height="18.800000000000022" fill="#165488" stroke="#10426c" stroke-width="0.6"/>
<polyline points="384.5,503.7 384.5,499.5 399.5,499.5 399.5,503.7" fill="none" stroke="#1e1e1e" stroke-width="0.95"/>
<circle cx="389.75" cy="495.60" r="0.85" fill="#1e1e1e"/>
<path d="M389.75,494.15L389.75,497.05M388.49,494.88L391.01,496.33M391.01,494.88L388.49,496.33" stroke="#1e1e1e" stroke-width="0.75" stroke-linecap="round" fill="none"/>
<circle cx="394.25" cy="495.60" r="0.85" fill="#1e1e1e"/>
<path d="M394.25,494.15L394.25,497.05M392.99,494.88L395.51,496.33M395.51,494.88L392.99,496.33" stroke="#1e1e1e" stroke-width="0.75" stroke-linecap="round" fill="none"/>
<text x="393.1" y="468.1" font-size="8.3" text-anchor="middle" font-weight="normal" fill="#231f20" textLength="49" lengthAdjust="spacingAndGlyphs" >DCs (spleen)</text>
<text transform="translate(11.6,522.5) rotate(-90)" font-size="8.2" text-anchor="middle" fill="#231f20" textLength="36.5" lengthAdjust="spacingAndGlyphs">Cells × 10<tspan font-size="5" dy="-2.8">6</tspan></text>
<rect x="418.5" y="503.6" width="6.3" height="6.3" fill="#c8162f"/>
<rect x="418.5" y="524.9" width="6.3" height="6.3" fill="#165488"/>
<text x="428.6" y="505.9" font-size="7.5" fill="#231f20" textLength="78.7" lengthAdjust="spacingAndGlyphs">NK<tspan font-size="4.65" dy="-2.85">allo</tspan><tspan dy="2.85"> + BMT + isotype</tspan></text>
<text x="428.6" y="514.3" font-size="7.5" text-anchor="start" font-weight="normal" fill="#231f20" textLength="57" lengthAdjust="spacingAndGlyphs" >control antibodies</text>
<text x="428.6" y="527" font-size="7.5" fill="#231f20" textLength="87.2" lengthAdjust="spacingAndGlyphs">NK<tspan font-size="4.65" dy="-2.85">allo</tspan><tspan dy="2.85"> + BMT + anti-IL-7 +</tspan></text>
<text x="428.6" y="536.1" font-size="7.5" text-anchor="start" font-weight="normal" fill="#231f20" textLength="73" lengthAdjust="spacingAndGlyphs" >anti-cKIT-L antibodies</text>
</svg></body></html>
